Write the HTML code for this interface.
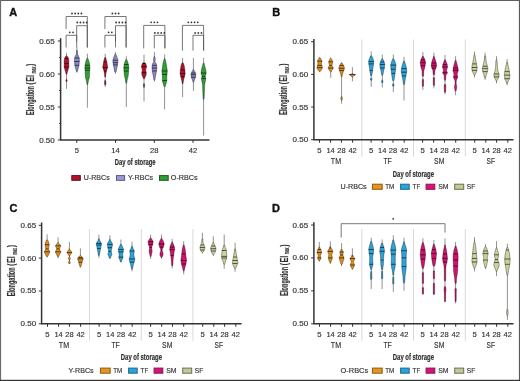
<!DOCTYPE html><html><head><meta charset="utf-8"><style>html,body{margin:0;padding:0;background:#fff;width:520px;height:381px;overflow:hidden}</style></head><body><svg width="520" height="381" viewBox="0 0 520 381" style="display:block;will-change:transform">
<g font-family='"Liberation Sans", sans-serif'>
<rect x="0" y="0" width="520" height="381" fill="#fff"/>
<text x="9.2" y="16.1" font-size="11" text-anchor="start" font-weight="bold" fill="#111" stroke="#111" stroke-width="0.35">A</text>
<text x="272.2" y="16.2" font-size="11" text-anchor="start" font-weight="bold" fill="#111" stroke="#111" stroke-width="0.35">B</text>
<text x="9.4" y="211.6" font-size="11" text-anchor="start" font-weight="bold" fill="#111" stroke="#111" stroke-width="0.35">C</text>
<text x="272" y="211.6" font-size="11" text-anchor="start" font-weight="bold" fill="#111" stroke="#111" stroke-width="0.35">D</text>
<line x1="60.6" y1="38.2" x2="60.6" y2="140.0" stroke="#333" stroke-width="1.5"/>
<line x1="57.800000000000004" y1="41.00" x2="60.6" y2="41.00" stroke="#333" stroke-width="1"/>
<text x="54.8" y="43.50" font-size="7.8" text-anchor="end" font-weight="normal" fill="#333" stroke="#333" stroke-width="0.15" textLength="15.6" lengthAdjust="spacingAndGlyphs" >0.65</text>
<line x1="57.800000000000004" y1="74.00" x2="60.6" y2="74.00" stroke="#333" stroke-width="1"/>
<text x="54.8" y="76.50" font-size="7.8" text-anchor="end" font-weight="normal" fill="#333" stroke="#333" stroke-width="0.15" textLength="15.6" lengthAdjust="spacingAndGlyphs" >0.60</text>
<line x1="57.800000000000004" y1="107.00" x2="60.6" y2="107.00" stroke="#333" stroke-width="1"/>
<text x="54.8" y="109.50" font-size="7.8" text-anchor="end" font-weight="normal" fill="#333" stroke="#333" stroke-width="0.15" textLength="15.6" lengthAdjust="spacingAndGlyphs" >0.55</text>
<line x1="57.800000000000004" y1="140.00" x2="60.6" y2="140.00" stroke="#333" stroke-width="1"/>
<text x="54.8" y="142.50" font-size="7.8" text-anchor="end" font-weight="normal" fill="#333" stroke="#333" stroke-width="0.15" textLength="15.6" lengthAdjust="spacingAndGlyphs" >0.50</text>
<line x1="59.0" y1="57.50" x2="60.6" y2="57.50" stroke="#333" stroke-width="0.9"/>
<line x1="59.0" y1="90.50" x2="60.6" y2="90.50" stroke="#333" stroke-width="0.9"/>
<line x1="59.0" y1="123.50" x2="60.6" y2="123.50" stroke="#333" stroke-width="0.9"/>
<line x1="60" y1="140" x2="209.5" y2="140" stroke="#333" stroke-width="1.5"/>
<line x1="76.8" y1="140" x2="76.8" y2="142.9" stroke="#333" stroke-width="1"/>
<text x="76.8" y="152.6" font-size="7.6" text-anchor="middle" font-weight="normal" fill="#333" stroke="#333" stroke-width="0.15" >5</text>
<line x1="115.5" y1="140" x2="115.5" y2="142.9" stroke="#333" stroke-width="1"/>
<text x="115.5" y="152.6" font-size="7.6" text-anchor="middle" font-weight="normal" fill="#333" stroke="#333" stroke-width="0.15" >14</text>
<line x1="154.3" y1="140" x2="154.3" y2="142.9" stroke="#333" stroke-width="1"/>
<text x="154.3" y="152.6" font-size="7.6" text-anchor="middle" font-weight="normal" fill="#333" stroke="#333" stroke-width="0.15" >28</text>
<line x1="193.0" y1="140" x2="193.0" y2="142.9" stroke="#333" stroke-width="1"/>
<text x="193.0" y="152.6" font-size="7.6" text-anchor="middle" font-weight="normal" fill="#333" stroke="#333" stroke-width="0.15" >42</text>
<g transform="translate(34.2,114.9) rotate(-90)" fill="#333" stroke="#333" stroke-width="0.15" font-weight="bold"><text x="0" y="0" font-size="10" textLength="28.8" lengthAdjust="spacingAndGlyphs">Elongation</text><text x="30.5" y="0" font-size="10" textLength="2.2" lengthAdjust="spacingAndGlyphs">(</text><text x="33.1" y="0" font-size="10" textLength="6.8" lengthAdjust="spacingAndGlyphs">EI</text><text x="41.4" y="1.3" font-size="6.5" textLength="6.8" lengthAdjust="spacingAndGlyphs">max</text><text x="49.0" y="0" font-size="10" textLength="2.2" lengthAdjust="spacingAndGlyphs">)</text></g>
<text x="135.2" y="165.2" font-size="8.3" text-anchor="middle" font-weight="bold" fill="#333" stroke="#333" stroke-width="0.2" textLength="40.7" lengthAdjust="spacingAndGlyphs" >Day of storage</text>
<rect x="71.80" y="175.60" width="8.50" height="4.70" fill="#b3112e" stroke="#6a0a1a" stroke-width="1"/>
<text x="83.8" y="180.4" font-size="7" text-anchor="start" font-weight="normal" fill="#333" stroke="#333" stroke-width="0.15" textLength="25.9" lengthAdjust="spacingAndGlyphs" >U-RBCs</text>
<rect x="116.50" y="175.60" width="8.10" height="4.70" fill="#9c9ad2" stroke="#55558a" stroke-width="1"/>
<text x="128" y="180.4" font-size="7" text-anchor="start" font-weight="normal" fill="#333" stroke="#333" stroke-width="0.15" textLength="25.1" lengthAdjust="spacingAndGlyphs" >Y-RBCs</text>
<rect x="159.50" y="175.60" width="8.70" height="4.70" fill="#2f9e33" stroke="#1a5a1a" stroke-width="1"/>
<text x="170.8" y="180.4" font-size="7" text-anchor="start" font-weight="normal" fill="#333" stroke="#333" stroke-width="0.15" textLength="26.9" lengthAdjust="spacingAndGlyphs" >O-RBCs</text>
<polyline points="66.10000000000001,29.0 66.10000000000001,16.5 87.3,16.5 87.3,47.5" fill="none" stroke="#555" stroke-width="0.8"/>
<circle cx="72.00" cy="13.5" r="0.9" fill="#333"/>
<circle cx="75.13" cy="13.5" r="0.9" fill="#333"/>
<circle cx="78.27" cy="13.5" r="0.9" fill="#333"/>
<circle cx="81.40" cy="13.5" r="0.9" fill="#333"/>
<polyline points="76.7,41.5 76.7,25.7 87.3,25.7 87.3,47.5" fill="none" stroke="#555" stroke-width="0.8"/>
<circle cx="77.30" cy="22.5" r="0.9" fill="#333"/>
<circle cx="80.43" cy="22.5" r="0.9" fill="#333"/>
<circle cx="83.57" cy="22.5" r="0.9" fill="#333"/>
<circle cx="86.70" cy="22.5" r="0.9" fill="#333"/>
<polyline points="66.10000000000001,47.5 66.10000000000001,35.3 76.7,35.3 76.7,47.5" fill="none" stroke="#555" stroke-width="0.8"/>
<circle cx="69.80" cy="32.3" r="0.9" fill="#333"/>
<circle cx="73.00" cy="32.3" r="0.9" fill="#333"/>
<polyline points="104.9,29.0 104.9,16.5 126.1,16.5 126.1,47.5" fill="none" stroke="#555" stroke-width="0.8"/>
<circle cx="112.35" cy="13.5" r="0.9" fill="#333"/>
<circle cx="115.50" cy="13.5" r="0.9" fill="#333"/>
<circle cx="118.65" cy="13.5" r="0.9" fill="#333"/>
<polyline points="115.5,41.5 115.5,25.7 126.1,25.7 126.1,47.5" fill="none" stroke="#555" stroke-width="0.8"/>
<circle cx="116.10" cy="22.5" r="0.9" fill="#333"/>
<circle cx="119.23" cy="22.5" r="0.9" fill="#333"/>
<circle cx="122.37" cy="22.5" r="0.9" fill="#333"/>
<circle cx="125.50" cy="22.5" r="0.9" fill="#333"/>
<polyline points="104.9,47.5 104.9,35.3 115.5,35.3 115.5,47.5" fill="none" stroke="#555" stroke-width="0.8"/>
<circle cx="108.60" cy="32.3" r="0.9" fill="#333"/>
<circle cx="111.80" cy="32.3" r="0.9" fill="#333"/>
<polyline points="143.70000000000002,48.4 143.70000000000002,25.4 164.9,25.4 164.9,48.4" fill="none" stroke="#555" stroke-width="0.8"/>
<circle cx="151.15" cy="22.3" r="0.9" fill="#333"/>
<circle cx="154.30" cy="22.3" r="0.9" fill="#333"/>
<circle cx="157.45" cy="22.3" r="0.9" fill="#333"/>
<polyline points="154.3,48.4 154.3,35.3 164.9,35.3 164.9,48.4" fill="none" stroke="#555" stroke-width="0.8"/>
<circle cx="154.90" cy="32.9" r="0.9" fill="#333"/>
<circle cx="158.03" cy="32.9" r="0.9" fill="#333"/>
<circle cx="161.17" cy="32.9" r="0.9" fill="#333"/>
<circle cx="164.30" cy="32.9" r="0.9" fill="#333"/>
<polyline points="182.4,50.6 182.4,25.4 203.6,25.4 203.6,50.6" fill="none" stroke="#555" stroke-width="0.8"/>
<circle cx="188.30" cy="22.3" r="0.9" fill="#333"/>
<circle cx="191.43" cy="22.3" r="0.9" fill="#333"/>
<circle cx="194.57" cy="22.3" r="0.9" fill="#333"/>
<circle cx="197.70" cy="22.3" r="0.9" fill="#333"/>
<polyline points="193.0,50.6 193.0,35.3 203.6,35.3 203.6,50.6" fill="none" stroke="#555" stroke-width="0.8"/>
<circle cx="195.15" cy="32.9" r="0.9" fill="#333"/>
<circle cx="198.30" cy="32.9" r="0.9" fill="#333"/>
<circle cx="201.45" cy="32.9" r="0.9" fill="#333"/>
<line x1="361.8" y1="39.4" x2="361.8" y2="156.7" stroke="#d0d0d0" stroke-width="0.8"/>
<line x1="413.5" y1="39.4" x2="413.5" y2="156.7" stroke="#d0d0d0" stroke-width="0.8"/>
<line x1="465.3" y1="39.4" x2="465.3" y2="156.7" stroke="#d0d0d0" stroke-width="0.8"/>
<line x1="313.9" y1="38.900000000000006" x2="313.9" y2="139.7" stroke="#333" stroke-width="1.5"/>
<line x1="311.09999999999997" y1="41.70" x2="313.9" y2="41.70" stroke="#333" stroke-width="1"/>
<text x="308.1" y="44.20" font-size="7.8" text-anchor="end" font-weight="normal" fill="#333" stroke="#333" stroke-width="0.15" textLength="15.6" lengthAdjust="spacingAndGlyphs" >0.65</text>
<line x1="311.09999999999997" y1="74.37" x2="313.9" y2="74.37" stroke="#333" stroke-width="1"/>
<text x="308.1" y="76.87" font-size="7.8" text-anchor="end" font-weight="normal" fill="#333" stroke="#333" stroke-width="0.15" textLength="15.6" lengthAdjust="spacingAndGlyphs" >0.60</text>
<line x1="311.09999999999997" y1="107.03" x2="313.9" y2="107.03" stroke="#333" stroke-width="1"/>
<text x="308.1" y="109.53" font-size="7.8" text-anchor="end" font-weight="normal" fill="#333" stroke="#333" stroke-width="0.15" textLength="15.6" lengthAdjust="spacingAndGlyphs" >0.55</text>
<line x1="311.09999999999997" y1="139.70" x2="313.9" y2="139.70" stroke="#333" stroke-width="1"/>
<text x="308.1" y="142.20" font-size="7.8" text-anchor="end" font-weight="normal" fill="#333" stroke="#333" stroke-width="0.15" textLength="15.6" lengthAdjust="spacingAndGlyphs" >0.50</text>
<line x1="313.29999999999995" y1="139.7" x2="513.6" y2="139.7" stroke="#333" stroke-width="1.5"/>
<line x1="319.50" y1="139.7" x2="319.50" y2="142.7" stroke="#333" stroke-width="1"/>
<text x="319.50" y="152.9" font-size="7.8" text-anchor="middle" font-weight="normal" fill="#333" stroke="#333" stroke-width="0.15" textLength="4.3" lengthAdjust="spacingAndGlyphs" >5</text>
<line x1="330.60" y1="139.7" x2="330.60" y2="142.7" stroke="#333" stroke-width="1"/>
<text x="330.60" y="152.9" font-size="7.8" text-anchor="middle" font-weight="normal" fill="#333" stroke="#333" stroke-width="0.15" textLength="8.4" lengthAdjust="spacingAndGlyphs" >14</text>
<line x1="341.40" y1="139.7" x2="341.40" y2="142.7" stroke="#333" stroke-width="1"/>
<text x="341.40" y="152.9" font-size="7.8" text-anchor="middle" font-weight="normal" fill="#333" stroke="#333" stroke-width="0.15" textLength="8.4" lengthAdjust="spacingAndGlyphs" >28</text>
<line x1="352.60" y1="139.7" x2="352.60" y2="142.7" stroke="#333" stroke-width="1"/>
<text x="352.60" y="152.9" font-size="7.8" text-anchor="middle" font-weight="normal" fill="#333" stroke="#333" stroke-width="0.15" textLength="8.4" lengthAdjust="spacingAndGlyphs" >42</text>
<text x="336.00" y="164.2" font-size="8.2" text-anchor="middle" font-weight="normal" fill="#333" stroke="#333" stroke-width="0.15" textLength="10.3" lengthAdjust="spacingAndGlyphs" >TM</text>
<line x1="371.10" y1="139.7" x2="371.10" y2="142.7" stroke="#333" stroke-width="1"/>
<text x="371.10" y="152.9" font-size="7.8" text-anchor="middle" font-weight="normal" fill="#333" stroke="#333" stroke-width="0.15" textLength="4.3" lengthAdjust="spacingAndGlyphs" >5</text>
<line x1="382.20" y1="139.7" x2="382.20" y2="142.7" stroke="#333" stroke-width="1"/>
<text x="382.20" y="152.9" font-size="7.8" text-anchor="middle" font-weight="normal" fill="#333" stroke="#333" stroke-width="0.15" textLength="8.4" lengthAdjust="spacingAndGlyphs" >14</text>
<line x1="393.00" y1="139.7" x2="393.00" y2="142.7" stroke="#333" stroke-width="1"/>
<text x="393.00" y="152.9" font-size="7.8" text-anchor="middle" font-weight="normal" fill="#333" stroke="#333" stroke-width="0.15" textLength="8.4" lengthAdjust="spacingAndGlyphs" >28</text>
<line x1="404.20" y1="139.7" x2="404.20" y2="142.7" stroke="#333" stroke-width="1"/>
<text x="404.20" y="152.9" font-size="7.8" text-anchor="middle" font-weight="normal" fill="#333" stroke="#333" stroke-width="0.15" textLength="8.4" lengthAdjust="spacingAndGlyphs" >42</text>
<text x="387.60" y="164.2" font-size="8.2" text-anchor="middle" font-weight="normal" fill="#333" stroke="#333" stroke-width="0.15" textLength="8.4" lengthAdjust="spacingAndGlyphs" >TF</text>
<line x1="422.60" y1="139.7" x2="422.60" y2="142.7" stroke="#333" stroke-width="1"/>
<text x="422.60" y="152.9" font-size="7.8" text-anchor="middle" font-weight="normal" fill="#333" stroke="#333" stroke-width="0.15" textLength="4.3" lengthAdjust="spacingAndGlyphs" >5</text>
<line x1="433.70" y1="139.7" x2="433.70" y2="142.7" stroke="#333" stroke-width="1"/>
<text x="433.70" y="152.9" font-size="7.8" text-anchor="middle" font-weight="normal" fill="#333" stroke="#333" stroke-width="0.15" textLength="8.4" lengthAdjust="spacingAndGlyphs" >14</text>
<line x1="444.50" y1="139.7" x2="444.50" y2="142.7" stroke="#333" stroke-width="1"/>
<text x="444.50" y="152.9" font-size="7.8" text-anchor="middle" font-weight="normal" fill="#333" stroke="#333" stroke-width="0.15" textLength="8.4" lengthAdjust="spacingAndGlyphs" >28</text>
<line x1="455.70" y1="139.7" x2="455.70" y2="142.7" stroke="#333" stroke-width="1"/>
<text x="455.70" y="152.9" font-size="7.8" text-anchor="middle" font-weight="normal" fill="#333" stroke="#333" stroke-width="0.15" textLength="8.4" lengthAdjust="spacingAndGlyphs" >42</text>
<text x="439.20" y="164.2" font-size="8.2" text-anchor="middle" font-weight="normal" fill="#333" stroke="#333" stroke-width="0.15" textLength="10.3" lengthAdjust="spacingAndGlyphs" >SM</text>
<line x1="474.70" y1="139.7" x2="474.70" y2="142.7" stroke="#333" stroke-width="1"/>
<text x="474.70" y="152.9" font-size="7.8" text-anchor="middle" font-weight="normal" fill="#333" stroke="#333" stroke-width="0.15" textLength="4.3" lengthAdjust="spacingAndGlyphs" >5</text>
<line x1="485.80" y1="139.7" x2="485.80" y2="142.7" stroke="#333" stroke-width="1"/>
<text x="485.80" y="152.9" font-size="7.8" text-anchor="middle" font-weight="normal" fill="#333" stroke="#333" stroke-width="0.15" textLength="8.4" lengthAdjust="spacingAndGlyphs" >14</text>
<line x1="496.60" y1="139.7" x2="496.60" y2="142.7" stroke="#333" stroke-width="1"/>
<text x="496.60" y="152.9" font-size="7.8" text-anchor="middle" font-weight="normal" fill="#333" stroke="#333" stroke-width="0.15" textLength="8.4" lengthAdjust="spacingAndGlyphs" >28</text>
<line x1="507.80" y1="139.7" x2="507.80" y2="142.7" stroke="#333" stroke-width="1"/>
<text x="507.80" y="152.9" font-size="7.8" text-anchor="middle" font-weight="normal" fill="#333" stroke="#333" stroke-width="0.15" textLength="8.4" lengthAdjust="spacingAndGlyphs" >42</text>
<text x="490.70" y="164.2" font-size="8.2" text-anchor="middle" font-weight="normal" fill="#333" stroke="#333" stroke-width="0.15" textLength="8.4" lengthAdjust="spacingAndGlyphs" >SF</text>
<g transform="translate(287.4,114.8) rotate(-90)" fill="#333" stroke="#333" stroke-width="0.15" font-weight="bold"><text x="0" y="0" font-size="10" textLength="28.8" lengthAdjust="spacingAndGlyphs">Elongation</text><text x="30.5" y="0" font-size="10" textLength="2.2" lengthAdjust="spacingAndGlyphs">(</text><text x="33.1" y="0" font-size="10" textLength="6.8" lengthAdjust="spacingAndGlyphs">EI</text><text x="41.4" y="1.3" font-size="6.5" textLength="6.8" lengthAdjust="spacingAndGlyphs">max</text><text x="49.0" y="0" font-size="10" textLength="2.2" lengthAdjust="spacingAndGlyphs">)</text></g>
<text x="413.4" y="176.5" font-size="8.3" text-anchor="middle" font-weight="bold" fill="#333" stroke="#333" stroke-width="0.2" textLength="41.2" lengthAdjust="spacingAndGlyphs" >Day of storage</text>
<text x="340.5" y="188.8" font-size="7" text-anchor="start" font-weight="normal" fill="#333" stroke="#333" stroke-width="0.15" textLength="26.2" lengthAdjust="spacingAndGlyphs" >U-RBCs</text>
<rect x="372.40" y="184.20" width="9.80" height="5.10" fill="#e8951d" stroke="#8a5a10" stroke-width="1"/>
<text x="385.3" y="188.8" font-size="7" text-anchor="start" font-weight="normal" fill="#333" stroke="#333" stroke-width="0.15" textLength="9.0" lengthAdjust="spacingAndGlyphs" >TM</text>
<rect x="400.60" y="184.20" width="8.60" height="5.10" fill="#2ba4d8" stroke="#1a6a90" stroke-width="1"/>
<text x="412.6" y="188.8" font-size="7" text-anchor="start" font-weight="normal" fill="#333" stroke="#333" stroke-width="0.15" textLength="7.6" lengthAdjust="spacingAndGlyphs" >TF</text>
<rect x="426.10" y="184.20" width="8.70" height="5.10" fill="#d8127a" stroke="#8a1050" stroke-width="1"/>
<text x="438.2" y="188.8" font-size="7" text-anchor="start" font-weight="normal" fill="#333" stroke="#333" stroke-width="0.15" textLength="10.3" lengthAdjust="spacingAndGlyphs" >SM</text>
<rect x="454.70" y="184.20" width="9.00" height="5.10" fill="#c2cb98" stroke="#6a7050" stroke-width="1"/>
<text x="466.8" y="188.8" font-size="7" text-anchor="start" font-weight="normal" fill="#333" stroke="#333" stroke-width="0.15" textLength="8.4" lengthAdjust="spacingAndGlyphs" >SF</text>
<line x1="89.5" y1="229" x2="89.5" y2="340.8" stroke="#d0d0d0" stroke-width="0.8"/>
<line x1="141.3" y1="229" x2="141.3" y2="340.8" stroke="#d0d0d0" stroke-width="0.8"/>
<line x1="192.9" y1="229" x2="192.9" y2="340.8" stroke="#d0d0d0" stroke-width="0.8"/>
<line x1="41.6" y1="222.5" x2="41.6" y2="323.8" stroke="#333" stroke-width="1.5"/>
<line x1="38.800000000000004" y1="225.30" x2="41.6" y2="225.30" stroke="#333" stroke-width="1"/>
<text x="36.1" y="227.80" font-size="7.8" text-anchor="end" font-weight="normal" fill="#333" stroke="#333" stroke-width="0.15" textLength="15.6" lengthAdjust="spacingAndGlyphs" >0.65</text>
<line x1="38.800000000000004" y1="258.13" x2="41.6" y2="258.13" stroke="#333" stroke-width="1"/>
<text x="36.1" y="260.63" font-size="7.8" text-anchor="end" font-weight="normal" fill="#333" stroke="#333" stroke-width="0.15" textLength="15.6" lengthAdjust="spacingAndGlyphs" >0.60</text>
<line x1="38.800000000000004" y1="290.97" x2="41.6" y2="290.97" stroke="#333" stroke-width="1"/>
<text x="36.1" y="293.47" font-size="7.8" text-anchor="end" font-weight="normal" fill="#333" stroke="#333" stroke-width="0.15" textLength="15.6" lengthAdjust="spacingAndGlyphs" >0.55</text>
<line x1="38.800000000000004" y1="323.80" x2="41.6" y2="323.80" stroke="#333" stroke-width="1"/>
<text x="36.1" y="326.30" font-size="7.8" text-anchor="end" font-weight="normal" fill="#333" stroke="#333" stroke-width="0.15" textLength="15.6" lengthAdjust="spacingAndGlyphs" >0.50</text>
<line x1="41.0" y1="323.8" x2="241.60000000000002" y2="323.8" stroke="#333" stroke-width="1.5"/>
<line x1="47.50" y1="323.8" x2="47.50" y2="326.8" stroke="#333" stroke-width="1"/>
<text x="47.50" y="336.6" font-size="7.8" text-anchor="middle" font-weight="normal" fill="#333" stroke="#333" stroke-width="0.15" textLength="4.3" lengthAdjust="spacingAndGlyphs" >5</text>
<line x1="58.60" y1="323.8" x2="58.60" y2="326.8" stroke="#333" stroke-width="1"/>
<text x="58.60" y="336.6" font-size="7.8" text-anchor="middle" font-weight="normal" fill="#333" stroke="#333" stroke-width="0.15" textLength="8.4" lengthAdjust="spacingAndGlyphs" >14</text>
<line x1="69.40" y1="323.8" x2="69.40" y2="326.8" stroke="#333" stroke-width="1"/>
<text x="69.40" y="336.6" font-size="7.8" text-anchor="middle" font-weight="normal" fill="#333" stroke="#333" stroke-width="0.15" textLength="8.4" lengthAdjust="spacingAndGlyphs" >28</text>
<line x1="80.60" y1="323.8" x2="80.60" y2="326.8" stroke="#333" stroke-width="1"/>
<text x="80.60" y="336.6" font-size="7.8" text-anchor="middle" font-weight="normal" fill="#333" stroke="#333" stroke-width="0.15" textLength="8.4" lengthAdjust="spacingAndGlyphs" >42</text>
<text x="64.00" y="347.9" font-size="8.2" text-anchor="middle" font-weight="normal" fill="#333" stroke="#333" stroke-width="0.15" textLength="10.3" lengthAdjust="spacingAndGlyphs" >TM</text>
<line x1="99.10" y1="323.8" x2="99.10" y2="326.8" stroke="#333" stroke-width="1"/>
<text x="99.10" y="336.6" font-size="7.8" text-anchor="middle" font-weight="normal" fill="#333" stroke="#333" stroke-width="0.15" textLength="4.3" lengthAdjust="spacingAndGlyphs" >5</text>
<line x1="110.20" y1="323.8" x2="110.20" y2="326.8" stroke="#333" stroke-width="1"/>
<text x="110.20" y="336.6" font-size="7.8" text-anchor="middle" font-weight="normal" fill="#333" stroke="#333" stroke-width="0.15" textLength="8.4" lengthAdjust="spacingAndGlyphs" >14</text>
<line x1="121.00" y1="323.8" x2="121.00" y2="326.8" stroke="#333" stroke-width="1"/>
<text x="121.00" y="336.6" font-size="7.8" text-anchor="middle" font-weight="normal" fill="#333" stroke="#333" stroke-width="0.15" textLength="8.4" lengthAdjust="spacingAndGlyphs" >28</text>
<line x1="132.20" y1="323.8" x2="132.20" y2="326.8" stroke="#333" stroke-width="1"/>
<text x="132.20" y="336.6" font-size="7.8" text-anchor="middle" font-weight="normal" fill="#333" stroke="#333" stroke-width="0.15" textLength="8.4" lengthAdjust="spacingAndGlyphs" >42</text>
<text x="115.60" y="347.9" font-size="8.2" text-anchor="middle" font-weight="normal" fill="#333" stroke="#333" stroke-width="0.15" textLength="8.4" lengthAdjust="spacingAndGlyphs" >TF</text>
<line x1="150.60" y1="323.8" x2="150.60" y2="326.8" stroke="#333" stroke-width="1"/>
<text x="150.60" y="336.6" font-size="7.8" text-anchor="middle" font-weight="normal" fill="#333" stroke="#333" stroke-width="0.15" textLength="4.3" lengthAdjust="spacingAndGlyphs" >5</text>
<line x1="161.70" y1="323.8" x2="161.70" y2="326.8" stroke="#333" stroke-width="1"/>
<text x="161.70" y="336.6" font-size="7.8" text-anchor="middle" font-weight="normal" fill="#333" stroke="#333" stroke-width="0.15" textLength="8.4" lengthAdjust="spacingAndGlyphs" >14</text>
<line x1="172.50" y1="323.8" x2="172.50" y2="326.8" stroke="#333" stroke-width="1"/>
<text x="172.50" y="336.6" font-size="7.8" text-anchor="middle" font-weight="normal" fill="#333" stroke="#333" stroke-width="0.15" textLength="8.4" lengthAdjust="spacingAndGlyphs" >28</text>
<line x1="183.70" y1="323.8" x2="183.70" y2="326.8" stroke="#333" stroke-width="1"/>
<text x="183.70" y="336.6" font-size="7.8" text-anchor="middle" font-weight="normal" fill="#333" stroke="#333" stroke-width="0.15" textLength="8.4" lengthAdjust="spacingAndGlyphs" >42</text>
<text x="167.20" y="347.9" font-size="8.2" text-anchor="middle" font-weight="normal" fill="#333" stroke="#333" stroke-width="0.15" textLength="10.3" lengthAdjust="spacingAndGlyphs" >SM</text>
<line x1="202.70" y1="323.8" x2="202.70" y2="326.8" stroke="#333" stroke-width="1"/>
<text x="202.70" y="336.6" font-size="7.8" text-anchor="middle" font-weight="normal" fill="#333" stroke="#333" stroke-width="0.15" textLength="4.3" lengthAdjust="spacingAndGlyphs" >5</text>
<line x1="213.80" y1="323.8" x2="213.80" y2="326.8" stroke="#333" stroke-width="1"/>
<text x="213.80" y="336.6" font-size="7.8" text-anchor="middle" font-weight="normal" fill="#333" stroke="#333" stroke-width="0.15" textLength="8.4" lengthAdjust="spacingAndGlyphs" >14</text>
<line x1="224.60" y1="323.8" x2="224.60" y2="326.8" stroke="#333" stroke-width="1"/>
<text x="224.60" y="336.6" font-size="7.8" text-anchor="middle" font-weight="normal" fill="#333" stroke="#333" stroke-width="0.15" textLength="8.4" lengthAdjust="spacingAndGlyphs" >28</text>
<line x1="235.80" y1="323.8" x2="235.80" y2="326.8" stroke="#333" stroke-width="1"/>
<text x="235.80" y="336.6" font-size="7.8" text-anchor="middle" font-weight="normal" fill="#333" stroke="#333" stroke-width="0.15" textLength="8.4" lengthAdjust="spacingAndGlyphs" >42</text>
<text x="218.70" y="347.9" font-size="8.2" text-anchor="middle" font-weight="normal" fill="#333" stroke="#333" stroke-width="0.15" textLength="8.4" lengthAdjust="spacingAndGlyphs" >SF</text>
<g transform="translate(15.2,296.2) rotate(-90)" fill="#333" stroke="#333" stroke-width="0.15" font-weight="bold"><text x="0" y="0" font-size="10" textLength="28.8" lengthAdjust="spacingAndGlyphs">Elongation</text><text x="30.5" y="0" font-size="10" textLength="2.2" lengthAdjust="spacingAndGlyphs">(</text><text x="33.1" y="0" font-size="10" textLength="6.8" lengthAdjust="spacingAndGlyphs">EI</text><text x="41.4" y="1.3" font-size="6.5" textLength="6.8" lengthAdjust="spacingAndGlyphs">max</text><text x="49.0" y="0" font-size="10" textLength="2.2" lengthAdjust="spacingAndGlyphs">)</text></g>
<text x="141.39999999999998" y="360.2" font-size="8.3" text-anchor="middle" font-weight="bold" fill="#333" stroke="#333" stroke-width="0.2" textLength="41.2" lengthAdjust="spacingAndGlyphs" >Day of storage</text>
<text x="68.5" y="372.7" font-size="7" text-anchor="start" font-weight="normal" fill="#333" stroke="#333" stroke-width="0.15" textLength="25.1" lengthAdjust="spacingAndGlyphs" >Y-RBCs</text>
<rect x="100.40" y="368.10" width="9.80" height="5.10" fill="#e8951d" stroke="#8a5a10" stroke-width="1"/>
<text x="113.30000000000001" y="372.7" font-size="7" text-anchor="start" font-weight="normal" fill="#333" stroke="#333" stroke-width="0.15" textLength="9.0" lengthAdjust="spacingAndGlyphs" >TM</text>
<rect x="128.60" y="368.10" width="8.60" height="5.10" fill="#2ba4d8" stroke="#1a6a90" stroke-width="1"/>
<text x="140.60000000000002" y="372.7" font-size="7" text-anchor="start" font-weight="normal" fill="#333" stroke="#333" stroke-width="0.15" textLength="7.6" lengthAdjust="spacingAndGlyphs" >TF</text>
<rect x="154.10" y="368.10" width="8.70" height="5.10" fill="#d8127a" stroke="#8a1050" stroke-width="1"/>
<text x="166.2" y="372.7" font-size="7" text-anchor="start" font-weight="normal" fill="#333" stroke="#333" stroke-width="0.15" textLength="10.3" lengthAdjust="spacingAndGlyphs" >SM</text>
<rect x="182.70" y="368.10" width="9.00" height="5.10" fill="#c2cb98" stroke="#6a7050" stroke-width="1"/>
<text x="194.8" y="372.7" font-size="7" text-anchor="start" font-weight="normal" fill="#333" stroke="#333" stroke-width="0.15" textLength="8.4" lengthAdjust="spacingAndGlyphs" >SF</text>
<line x1="361.8" y1="229" x2="361.8" y2="340.8" stroke="#d0d0d0" stroke-width="0.8"/>
<line x1="413.5" y1="229" x2="413.5" y2="340.8" stroke="#d0d0d0" stroke-width="0.8"/>
<line x1="465.3" y1="229" x2="465.3" y2="340.8" stroke="#d0d0d0" stroke-width="0.8"/>
<line x1="313.9" y1="222.2" x2="313.9" y2="323.8" stroke="#333" stroke-width="1.5"/>
<line x1="311.09999999999997" y1="225.00" x2="313.9" y2="225.00" stroke="#333" stroke-width="1"/>
<text x="308.1" y="227.50" font-size="7.8" text-anchor="end" font-weight="normal" fill="#333" stroke="#333" stroke-width="0.15" textLength="15.6" lengthAdjust="spacingAndGlyphs" >0.65</text>
<line x1="311.09999999999997" y1="257.93" x2="313.9" y2="257.93" stroke="#333" stroke-width="1"/>
<text x="308.1" y="260.43" font-size="7.8" text-anchor="end" font-weight="normal" fill="#333" stroke="#333" stroke-width="0.15" textLength="15.6" lengthAdjust="spacingAndGlyphs" >0.60</text>
<line x1="311.09999999999997" y1="290.87" x2="313.9" y2="290.87" stroke="#333" stroke-width="1"/>
<text x="308.1" y="293.37" font-size="7.8" text-anchor="end" font-weight="normal" fill="#333" stroke="#333" stroke-width="0.15" textLength="15.6" lengthAdjust="spacingAndGlyphs" >0.55</text>
<line x1="311.09999999999997" y1="323.80" x2="313.9" y2="323.80" stroke="#333" stroke-width="1"/>
<text x="308.1" y="326.30" font-size="7.8" text-anchor="end" font-weight="normal" fill="#333" stroke="#333" stroke-width="0.15" textLength="15.6" lengthAdjust="spacingAndGlyphs" >0.50</text>
<line x1="313.29999999999995" y1="323.8" x2="513.6" y2="323.8" stroke="#333" stroke-width="1.5"/>
<line x1="319.50" y1="323.8" x2="319.50" y2="326.8" stroke="#333" stroke-width="1"/>
<text x="319.50" y="336.6" font-size="7.8" text-anchor="middle" font-weight="normal" fill="#333" stroke="#333" stroke-width="0.15" textLength="4.3" lengthAdjust="spacingAndGlyphs" >5</text>
<line x1="330.60" y1="323.8" x2="330.60" y2="326.8" stroke="#333" stroke-width="1"/>
<text x="330.60" y="336.6" font-size="7.8" text-anchor="middle" font-weight="normal" fill="#333" stroke="#333" stroke-width="0.15" textLength="8.4" lengthAdjust="spacingAndGlyphs" >14</text>
<line x1="341.40" y1="323.8" x2="341.40" y2="326.8" stroke="#333" stroke-width="1"/>
<text x="341.40" y="336.6" font-size="7.8" text-anchor="middle" font-weight="normal" fill="#333" stroke="#333" stroke-width="0.15" textLength="8.4" lengthAdjust="spacingAndGlyphs" >28</text>
<line x1="352.60" y1="323.8" x2="352.60" y2="326.8" stroke="#333" stroke-width="1"/>
<text x="352.60" y="336.6" font-size="7.8" text-anchor="middle" font-weight="normal" fill="#333" stroke="#333" stroke-width="0.15" textLength="8.4" lengthAdjust="spacingAndGlyphs" >42</text>
<text x="336.00" y="347.9" font-size="8.2" text-anchor="middle" font-weight="normal" fill="#333" stroke="#333" stroke-width="0.15" textLength="10.3" lengthAdjust="spacingAndGlyphs" >TM</text>
<line x1="371.10" y1="323.8" x2="371.10" y2="326.8" stroke="#333" stroke-width="1"/>
<text x="371.10" y="336.6" font-size="7.8" text-anchor="middle" font-weight="normal" fill="#333" stroke="#333" stroke-width="0.15" textLength="4.3" lengthAdjust="spacingAndGlyphs" >5</text>
<line x1="382.20" y1="323.8" x2="382.20" y2="326.8" stroke="#333" stroke-width="1"/>
<text x="382.20" y="336.6" font-size="7.8" text-anchor="middle" font-weight="normal" fill="#333" stroke="#333" stroke-width="0.15" textLength="8.4" lengthAdjust="spacingAndGlyphs" >14</text>
<line x1="393.00" y1="323.8" x2="393.00" y2="326.8" stroke="#333" stroke-width="1"/>
<text x="393.00" y="336.6" font-size="7.8" text-anchor="middle" font-weight="normal" fill="#333" stroke="#333" stroke-width="0.15" textLength="8.4" lengthAdjust="spacingAndGlyphs" >28</text>
<line x1="404.20" y1="323.8" x2="404.20" y2="326.8" stroke="#333" stroke-width="1"/>
<text x="404.20" y="336.6" font-size="7.8" text-anchor="middle" font-weight="normal" fill="#333" stroke="#333" stroke-width="0.15" textLength="8.4" lengthAdjust="spacingAndGlyphs" >42</text>
<text x="387.60" y="347.9" font-size="8.2" text-anchor="middle" font-weight="normal" fill="#333" stroke="#333" stroke-width="0.15" textLength="8.4" lengthAdjust="spacingAndGlyphs" >TF</text>
<line x1="422.60" y1="323.8" x2="422.60" y2="326.8" stroke="#333" stroke-width="1"/>
<text x="422.60" y="336.6" font-size="7.8" text-anchor="middle" font-weight="normal" fill="#333" stroke="#333" stroke-width="0.15" textLength="4.3" lengthAdjust="spacingAndGlyphs" >5</text>
<line x1="433.70" y1="323.8" x2="433.70" y2="326.8" stroke="#333" stroke-width="1"/>
<text x="433.70" y="336.6" font-size="7.8" text-anchor="middle" font-weight="normal" fill="#333" stroke="#333" stroke-width="0.15" textLength="8.4" lengthAdjust="spacingAndGlyphs" >14</text>
<line x1="444.50" y1="323.8" x2="444.50" y2="326.8" stroke="#333" stroke-width="1"/>
<text x="444.50" y="336.6" font-size="7.8" text-anchor="middle" font-weight="normal" fill="#333" stroke="#333" stroke-width="0.15" textLength="8.4" lengthAdjust="spacingAndGlyphs" >28</text>
<line x1="455.70" y1="323.8" x2="455.70" y2="326.8" stroke="#333" stroke-width="1"/>
<text x="455.70" y="336.6" font-size="7.8" text-anchor="middle" font-weight="normal" fill="#333" stroke="#333" stroke-width="0.15" textLength="8.4" lengthAdjust="spacingAndGlyphs" >42</text>
<text x="439.20" y="347.9" font-size="8.2" text-anchor="middle" font-weight="normal" fill="#333" stroke="#333" stroke-width="0.15" textLength="10.3" lengthAdjust="spacingAndGlyphs" >SM</text>
<line x1="474.70" y1="323.8" x2="474.70" y2="326.8" stroke="#333" stroke-width="1"/>
<text x="474.70" y="336.6" font-size="7.8" text-anchor="middle" font-weight="normal" fill="#333" stroke="#333" stroke-width="0.15" textLength="4.3" lengthAdjust="spacingAndGlyphs" >5</text>
<line x1="485.80" y1="323.8" x2="485.80" y2="326.8" stroke="#333" stroke-width="1"/>
<text x="485.80" y="336.6" font-size="7.8" text-anchor="middle" font-weight="normal" fill="#333" stroke="#333" stroke-width="0.15" textLength="8.4" lengthAdjust="spacingAndGlyphs" >14</text>
<line x1="496.60" y1="323.8" x2="496.60" y2="326.8" stroke="#333" stroke-width="1"/>
<text x="496.60" y="336.6" font-size="7.8" text-anchor="middle" font-weight="normal" fill="#333" stroke="#333" stroke-width="0.15" textLength="8.4" lengthAdjust="spacingAndGlyphs" >28</text>
<line x1="507.80" y1="323.8" x2="507.80" y2="326.8" stroke="#333" stroke-width="1"/>
<text x="507.80" y="336.6" font-size="7.8" text-anchor="middle" font-weight="normal" fill="#333" stroke="#333" stroke-width="0.15" textLength="8.4" lengthAdjust="spacingAndGlyphs" >42</text>
<text x="490.70" y="347.9" font-size="8.2" text-anchor="middle" font-weight="normal" fill="#333" stroke="#333" stroke-width="0.15" textLength="8.4" lengthAdjust="spacingAndGlyphs" >SF</text>
<g transform="translate(287.6,295.7) rotate(-90)" fill="#333" stroke="#333" stroke-width="0.15" font-weight="bold"><text x="0" y="0" font-size="10" textLength="28.8" lengthAdjust="spacingAndGlyphs">Elongation</text><text x="30.5" y="0" font-size="10" textLength="2.2" lengthAdjust="spacingAndGlyphs">(</text><text x="33.1" y="0" font-size="10" textLength="6.8" lengthAdjust="spacingAndGlyphs">EI</text><text x="41.4" y="1.3" font-size="6.5" textLength="6.8" lengthAdjust="spacingAndGlyphs">max</text><text x="49.0" y="0" font-size="10" textLength="2.2" lengthAdjust="spacingAndGlyphs">)</text></g>
<text x="413.4" y="360.2" font-size="8.3" text-anchor="middle" font-weight="bold" fill="#333" stroke="#333" stroke-width="0.2" textLength="41.2" lengthAdjust="spacingAndGlyphs" >Day of storage</text>
<text x="340.5" y="372.7" font-size="7" text-anchor="start" font-weight="normal" fill="#333" stroke="#333" stroke-width="0.15" textLength="27.7" lengthAdjust="spacingAndGlyphs" >O-RBCs</text>
<rect x="372.40" y="368.10" width="9.80" height="5.10" fill="#e8951d" stroke="#8a5a10" stroke-width="1"/>
<text x="385.3" y="372.7" font-size="7" text-anchor="start" font-weight="normal" fill="#333" stroke="#333" stroke-width="0.15" textLength="9.0" lengthAdjust="spacingAndGlyphs" >TM</text>
<rect x="400.60" y="368.10" width="8.60" height="5.10" fill="#2ba4d8" stroke="#1a6a90" stroke-width="1"/>
<text x="412.6" y="372.7" font-size="7" text-anchor="start" font-weight="normal" fill="#333" stroke="#333" stroke-width="0.15" textLength="7.6" lengthAdjust="spacingAndGlyphs" >TF</text>
<rect x="426.10" y="368.10" width="8.70" height="5.10" fill="#d8127a" stroke="#8a1050" stroke-width="1"/>
<text x="438.2" y="372.7" font-size="7" text-anchor="start" font-weight="normal" fill="#333" stroke="#333" stroke-width="0.15" textLength="10.3" lengthAdjust="spacingAndGlyphs" >SM</text>
<rect x="454.70" y="368.10" width="9.00" height="5.10" fill="#c2cb98" stroke="#6a7050" stroke-width="1"/>
<text x="466.8" y="372.7" font-size="7" text-anchor="start" font-weight="normal" fill="#333" stroke="#333" stroke-width="0.15" textLength="8.4" lengthAdjust="spacingAndGlyphs" >SF</text>
<line x1="66.5" y1="52.8" x2="66.5" y2="88.8" stroke="#6e6e6e" stroke-width="0.75"/>
<polygon points="66.55,55.8 67.27,56.3 67.61,56.8 67.94,57.3 68.19,57.8 68.34,58.3 68.48,58.8 68.61,59.3 68.72,59.8 68.82,60.3 68.88,60.8 68.92,61.3 68.92,61.8 68.89,62.3 68.86,62.8 68.83,63.3 68.81,63.8 68.81,64.3 68.83,64.8 68.86,65.3 68.90,65.8 68.92,66.3 68.91,66.8 68.85,67.3 68.72,67.8 68.58,68.3 68.43,68.8 68.29,69.3 68.13,69.8 67.96,70.3 67.79,70.8 67.63,71.3 67.49,71.8 67.36,72.3 67.24,72.8 67.13,73.3 67.03,73.8 66.55,74.3 66.45,74.3 65.97,73.8 65.87,73.3 65.76,72.8 65.64,72.3 65.51,71.8 65.37,71.3 65.21,70.8 65.04,70.3 64.87,69.8 64.71,69.3 64.57,68.8 64.42,68.3 64.28,67.8 64.15,67.3 64.09,66.8 64.08,66.3 64.10,65.8 64.14,65.3 64.17,64.8 64.19,64.3 64.19,63.8 64.17,63.3 64.14,62.8 64.11,62.3 64.08,61.8 64.08,61.3 64.12,60.8 64.18,60.3 64.28,59.8 64.39,59.3 64.52,58.8 64.66,58.3 64.81,57.8 65.06,57.3 65.39,56.8 65.73,56.3 66.45,55.8" fill="#b3112e" stroke="#000" stroke-opacity="0.65" stroke-width="0.55" stroke-linejoin="round"/>
<polygon points="66.55,79.3 67.08,79.8 67.16,80.3 67.13,80.8 67.03,81.3 66.55,81.8 66.45,81.8 65.97,81.3 65.87,80.8 65.84,80.3 65.92,79.8 66.45,79.3" fill="#b3112e" stroke="#000" stroke-opacity="0.65" stroke-width="0.55" stroke-linejoin="round"/>
<line x1="64.60" y1="58.5" x2="68.40" y2="58.5" stroke="#000" stroke-opacity="0.7" stroke-width="0.85"/>
<line x1="64.18" y1="63.6" x2="68.82" y2="63.6" stroke="#000" stroke-opacity="0.7" stroke-width="0.85"/>
<line x1="64.11" y1="67" x2="68.89" y2="67" stroke="#000" stroke-opacity="0.7" stroke-width="0.85"/>
<line x1="76.9" y1="47.2" x2="76.9" y2="72.7" stroke="#6e6e6e" stroke-width="0.75"/>
<polygon points="76.95,50.2 77.37,50.7 77.38,51.2 77.39,51.7 77.40,52.2 77.41,52.7 77.43,53.2 77.45,53.7 77.56,54.2 77.80,54.7 78.10,55.2 78.39,55.7 78.63,56.2 78.79,56.7 78.94,57.2 79.09,57.7 79.23,58.2 79.33,58.7 79.40,59.2 79.43,59.7 79.42,60.2 79.40,60.7 79.36,61.2 79.32,61.7 79.28,62.2 79.23,62.7 79.19,63.2 79.15,63.7 79.11,64.2 79.06,64.7 79.00,65.2 78.93,65.7 78.83,66.2 78.71,66.7 78.58,67.2 78.44,67.7 78.29,68.2 78.14,68.7 78.00,69.2 77.86,69.7 77.71,70.2 77.56,70.7 77.40,71.2 76.95,71.7 76.85,71.7 76.40,71.2 76.24,70.7 76.09,70.2 75.94,69.7 75.80,69.2 75.66,68.7 75.51,68.2 75.36,67.7 75.22,67.2 75.09,66.7 74.97,66.2 74.87,65.7 74.80,65.2 74.74,64.7 74.69,64.2 74.65,63.7 74.61,63.2 74.57,62.7 74.52,62.2 74.48,61.7 74.44,61.2 74.40,60.7 74.38,60.2 74.37,59.7 74.40,59.2 74.47,58.7 74.57,58.2 74.71,57.7 74.86,57.2 75.01,56.7 75.17,56.2 75.41,55.7 75.70,55.2 76.00,54.7 76.24,54.2 76.35,53.7 76.37,53.2 76.39,52.7 76.40,52.2 76.41,51.7 76.42,51.2 76.43,50.7 76.85,50.2" fill="#8886c4" stroke="#000" stroke-opacity="0.65" stroke-width="0.55" stroke-linejoin="round"/>
<line x1="74.62" y1="58" x2="79.18" y2="58" stroke="#000" stroke-opacity="0.7" stroke-width="0.85"/>
<line x1="74.46" y1="61.5" x2="79.34" y2="61.5" stroke="#000" stroke-opacity="0.7" stroke-width="0.85"/>
<line x1="74.81" y1="65.3" x2="78.99" y2="65.3" stroke="#000" stroke-opacity="0.7" stroke-width="0.85"/>
<line x1="87.4" y1="53.7" x2="87.4" y2="107.7" stroke="#6e6e6e" stroke-width="0.75"/>
<polygon points="87.45,58.2 88.01,58.7 88.21,59.2 88.41,59.7 88.59,60.2 88.75,60.7 88.90,61.2 89.05,61.7 89.19,62.2 89.33,62.7 89.45,63.2 89.55,63.7 89.63,64.2 89.70,64.7 89.76,65.2 89.82,65.7 89.87,66.2 89.91,66.7 89.93,67.2 89.93,67.7 89.90,68.2 89.85,68.7 89.79,69.2 89.74,69.7 89.71,70.2 89.69,70.7 89.67,71.2 89.66,71.7 89.65,72.2 89.64,72.7 89.63,73.2 89.61,73.7 89.59,74.2 89.57,74.7 89.54,75.2 89.51,75.7 89.48,76.2 89.44,76.7 89.39,77.2 89.32,77.7 89.20,78.2 89.05,78.7 88.88,79.2 88.72,79.7 88.57,80.2 88.46,80.7 88.35,81.2 88.25,81.7 88.16,82.2 88.08,82.7 88.00,83.2 87.94,83.7 87.88,84.2 87.45,84.7 87.35,84.7 86.92,84.2 86.86,83.7 86.80,83.2 86.72,82.7 86.64,82.2 86.55,81.7 86.45,81.2 86.34,80.7 86.23,80.2 86.08,79.7 85.92,79.2 85.75,78.7 85.60,78.2 85.48,77.7 85.41,77.2 85.36,76.7 85.32,76.2 85.29,75.7 85.26,75.2 85.23,74.7 85.21,74.2 85.19,73.7 85.17,73.2 85.16,72.7 85.15,72.2 85.14,71.7 85.13,71.2 85.11,70.7 85.09,70.2 85.06,69.7 85.01,69.2 84.95,68.7 84.90,68.2 84.87,67.7 84.87,67.2 84.89,66.7 84.93,66.2 84.98,65.7 85.04,65.2 85.10,64.7 85.17,64.2 85.25,63.7 85.35,63.2 85.47,62.7 85.61,62.2 85.75,61.7 85.90,61.2 86.05,60.7 86.21,60.2 86.39,59.7 86.59,59.2 86.79,58.7 87.35,58.2" fill="#2f9e33" stroke="#000" stroke-opacity="0.65" stroke-width="0.55" stroke-linejoin="round"/>
<line x1="85.03" y1="65.3" x2="89.77" y2="65.3" stroke="#000" stroke-opacity="0.7" stroke-width="0.85"/>
<line x1="84.89" y1="68" x2="89.91" y2="68" stroke="#000" stroke-opacity="0.7" stroke-width="0.85"/>
<line x1="85.09" y1="70.1" x2="89.71" y2="70.1" stroke="#000" stroke-opacity="0.7" stroke-width="0.85"/>
<line x1="105.2" y1="53.7" x2="105.2" y2="87.0" stroke="#6e6e6e" stroke-width="0.75"/>
<polygon points="105.25,57.2 105.73,57.7 105.88,58.2 106.03,58.7 106.17,59.2 106.30,59.7 106.41,60.2 106.53,60.7 106.64,61.2 106.75,61.7 106.85,62.2 106.95,62.7 107.05,63.2 107.13,63.7 107.21,64.2 107.29,64.7 107.38,65.2 107.46,65.7 107.53,66.2 107.58,66.7 107.61,67.2 107.61,67.7 107.48,68.2 107.28,68.7 107.07,69.2 106.90,69.7 106.74,70.2 106.59,70.7 106.44,71.2 106.32,71.7 106.22,72.2 106.12,72.7 106.02,73.2 105.94,73.7 105.86,74.2 105.80,74.7 105.76,75.2 105.73,75.7 105.70,76.2 105.67,76.7 105.25,77.2 105.15,77.2 104.73,76.7 104.70,76.2 104.67,75.7 104.64,75.2 104.60,74.7 104.54,74.2 104.46,73.7 104.38,73.2 104.28,72.7 104.18,72.2 104.08,71.7 103.96,71.2 103.81,70.7 103.66,70.2 103.50,69.7 103.33,69.2 103.12,68.7 102.92,68.2 102.79,67.7 102.79,67.2 102.82,66.7 102.87,66.2 102.94,65.7 103.02,65.2 103.11,64.7 103.19,64.2 103.27,63.7 103.35,63.2 103.45,62.7 103.55,62.2 103.65,61.7 103.76,61.2 103.87,60.7 103.99,60.2 104.10,59.7 104.23,59.2 104.37,58.7 104.52,58.2 104.67,57.7 105.15,57.2" fill="#b3112e" stroke="#000" stroke-opacity="0.65" stroke-width="0.55" stroke-linejoin="round"/>
<polygon points="105.25,80.2 105.66,80.7 105.76,81.2 105.84,81.7 105.86,82.2 105.85,82.7 105.84,83.2 105.81,83.7 105.77,84.2 105.71,84.7 105.25,85.2 105.15,85.2 104.69,84.7 104.63,84.2 104.59,83.7 104.56,83.2 104.55,82.7 104.54,82.2 104.56,81.7 104.64,81.2 104.74,80.7 105.15,80.2" fill="#b3112e" stroke="#000" stroke-opacity="0.65" stroke-width="0.55" stroke-linejoin="round"/>
<line x1="103.59" y1="62" x2="106.81" y2="62" stroke="#000" stroke-opacity="0.7" stroke-width="0.85"/>
<line x1="102.78" y1="67.5" x2="107.62" y2="67.5" stroke="#000" stroke-opacity="0.7" stroke-width="0.85"/>
<line x1="103.90" y1="71" x2="106.50" y2="71" stroke="#000" stroke-opacity="0.7" stroke-width="0.85"/>
<line x1="115.4" y1="51.9" x2="115.4" y2="73.6" stroke="#6e6e6e" stroke-width="0.75"/>
<polygon points="115.45,53.9 115.90,54.4 116.10,54.9 116.33,55.4 116.57,55.9 116.79,56.4 116.99,56.9 117.14,57.4 117.29,57.9 117.45,58.4 117.59,58.9 117.72,59.4 117.82,59.9 117.90,60.4 117.93,60.9 117.92,61.4 117.89,61.9 117.85,62.4 117.79,62.9 117.72,63.4 117.64,63.9 117.57,64.4 117.49,64.9 117.40,65.4 117.30,65.9 117.19,66.4 117.07,66.9 116.96,67.4 116.85,67.9 116.76,68.4 116.67,68.9 116.59,69.4 116.50,69.9 116.41,70.4 116.30,70.9 116.18,71.4 116.03,71.9 115.45,72.4 115.35,72.4 114.77,71.9 114.62,71.4 114.50,70.9 114.39,70.4 114.30,69.9 114.21,69.4 114.13,68.9 114.04,68.4 113.95,67.9 113.84,67.4 113.73,66.9 113.61,66.4 113.50,65.9 113.40,65.4 113.31,64.9 113.23,64.4 113.16,63.9 113.08,63.4 113.01,62.9 112.95,62.4 112.91,61.9 112.88,61.4 112.87,60.9 112.90,60.4 112.98,59.9 113.08,59.4 113.21,58.9 113.35,58.4 113.51,57.9 113.66,57.4 113.81,56.9 114.01,56.4 114.23,55.9 114.47,55.4 114.70,54.9 114.90,54.4 115.35,53.9" fill="#8886c4" stroke="#000" stroke-opacity="0.65" stroke-width="0.55" stroke-linejoin="round"/>
<line x1="112.93" y1="60.2" x2="117.87" y2="60.2" stroke="#000" stroke-opacity="0.7" stroke-width="0.85"/>
<line x1="112.99" y1="62.7" x2="117.81" y2="62.7" stroke="#000" stroke-opacity="0.7" stroke-width="0.85"/>
<line x1="113.31" y1="64.9" x2="117.49" y2="64.9" stroke="#000" stroke-opacity="0.7" stroke-width="0.85"/>
<line x1="126.3" y1="56.3" x2="126.3" y2="107.0" stroke="#6e6e6e" stroke-width="0.75"/>
<polygon points="126.35,59.3 126.82,59.8 127.03,60.3 127.25,60.8 127.47,61.3 127.67,61.8 127.84,62.3 127.98,62.8 128.12,63.3 128.25,63.8 128.37,64.3 128.47,64.8 128.55,65.3 128.63,65.8 128.70,66.3 128.76,66.8 128.81,67.3 128.83,67.8 128.82,68.3 128.80,68.8 128.76,69.3 128.72,69.8 128.67,70.3 128.63,70.8 128.59,71.3 128.56,71.8 128.52,72.3 128.49,72.8 128.46,73.3 128.42,73.8 128.38,74.3 128.33,74.8 128.28,75.3 128.20,75.8 128.10,76.3 127.97,76.8 127.83,77.3 127.69,77.8 127.56,78.3 127.44,78.8 127.34,79.3 127.25,79.8 127.15,80.3 127.06,80.8 126.98,81.3 126.91,81.8 126.85,82.3 126.79,82.8 126.35,83.3 126.25,83.3 125.81,82.8 125.75,82.3 125.69,81.8 125.62,81.3 125.54,80.8 125.45,80.3 125.35,79.8 125.26,79.3 125.16,78.8 125.04,78.3 124.91,77.8 124.77,77.3 124.63,76.8 124.50,76.3 124.40,75.8 124.32,75.3 124.27,74.8 124.22,74.3 124.18,73.8 124.14,73.3 124.11,72.8 124.08,72.3 124.04,71.8 124.01,71.3 123.97,70.8 123.93,70.3 123.88,69.8 123.84,69.3 123.80,68.8 123.78,68.3 123.77,67.8 123.79,67.3 123.84,66.8 123.90,66.3 123.97,65.8 124.05,65.3 124.13,64.8 124.23,64.3 124.35,63.8 124.48,63.3 124.62,62.8 124.76,62.3 124.93,61.8 125.13,61.3 125.35,60.8 125.57,60.3 125.78,59.8 126.25,59.3" fill="#2f9e33" stroke="#000" stroke-opacity="0.65" stroke-width="0.55" stroke-linejoin="round"/>
<line x1="124.19" y1="64.5" x2="128.41" y2="64.5" stroke="#000" stroke-opacity="0.7" stroke-width="0.85"/>
<line x1="123.77" y1="67.9" x2="128.83" y2="67.9" stroke="#000" stroke-opacity="0.7" stroke-width="0.85"/>
<line x1="123.99" y1="71" x2="128.61" y2="71" stroke="#000" stroke-opacity="0.7" stroke-width="0.85"/>
<line x1="144.0" y1="54.5" x2="144.0" y2="101.5" stroke="#6e6e6e" stroke-width="0.75"/>
<polygon points="144.05,62.5 145.01,63.0 145.59,63.5 145.84,64.0 146.05,64.5 146.24,65.0 146.39,65.5 146.49,66.0 146.53,66.5 146.50,67.0 146.40,67.5 146.26,68.0 146.10,68.5 145.94,69.0 145.82,69.5 145.76,70.0 145.79,70.5 145.88,71.0 146.01,71.5 146.12,72.0 146.19,72.5 146.20,73.0 146.20,73.5 146.20,74.0 146.18,74.5 146.07,75.0 145.89,75.5 145.66,76.0 145.42,76.5 145.18,77.0 144.99,77.5 144.80,78.0 144.61,78.5 144.05,79.0 143.95,79.0 143.39,78.5 143.20,78.0 143.01,77.5 142.82,77.0 142.58,76.5 142.34,76.0 142.11,75.5 141.93,75.0 141.82,74.5 141.80,74.0 141.80,73.5 141.80,73.0 141.81,72.5 141.88,72.0 141.99,71.5 142.12,71.0 142.21,70.5 142.24,70.0 142.18,69.5 142.06,69.0 141.90,68.5 141.74,68.0 141.60,67.5 141.50,67.0 141.47,66.5 141.51,66.0 141.61,65.5 141.76,65.0 141.95,64.5 142.16,64.0 142.41,63.5 142.99,63.0 143.95,62.5" fill="#b3112e" stroke="#000" stroke-opacity="0.65" stroke-width="0.55" stroke-linejoin="round"/>
<polygon points="144.05,83.5 144.47,84.0 144.48,84.5 144.49,85.0 144.49,85.5 144.49,86.0 144.49,86.5 144.47,87.0 144.05,87.5 143.95,87.5 143.53,87.0 143.51,86.5 143.51,86.0 143.51,85.5 143.51,85.0 143.52,84.5 143.53,84.0 143.95,83.5" fill="#b3112e" stroke="#000" stroke-opacity="0.65" stroke-width="0.55" stroke-linejoin="round"/>
<line x1="142.41" y1="63.5" x2="145.59" y2="63.5" stroke="#000" stroke-opacity="0.7" stroke-width="0.85"/>
<line x1="141.47" y1="66.6" x2="146.53" y2="66.6" stroke="#000" stroke-opacity="0.7" stroke-width="0.85"/>
<line x1="141.80" y1="72.7" x2="146.20" y2="72.7" stroke="#000" stroke-opacity="0.7" stroke-width="0.85"/>
<line x1="154.4" y1="51.9" x2="154.4" y2="81.6" stroke="#6e6e6e" stroke-width="0.75"/>
<polygon points="154.45,56.4 154.87,56.9 154.98,57.4 155.08,57.9 155.17,58.4 155.23,58.9 155.27,59.4 155.27,59.9 155.17,60.4 155.04,60.9 154.95,61.4 155.04,61.9 155.33,62.4 155.72,62.9 156.10,63.4 156.35,63.9 156.46,64.4 156.56,64.9 156.64,65.4 156.71,65.9 156.77,66.4 156.80,66.9 156.82,67.4 156.81,67.9 156.79,68.4 156.75,68.9 156.69,69.4 156.63,69.9 156.57,70.4 156.50,70.9 156.44,71.4 156.36,71.9 156.28,72.4 156.18,72.9 156.09,73.4 155.99,73.9 155.88,74.4 155.78,74.9 155.68,75.4 155.58,75.9 155.48,76.4 155.39,76.9 155.31,77.4 155.23,77.9 155.14,78.4 155.06,78.9 154.96,79.4 154.86,79.9 154.45,80.4 154.35,80.4 153.94,79.9 153.84,79.4 153.74,78.9 153.66,78.4 153.57,77.9 153.49,77.4 153.41,76.9 153.32,76.4 153.22,75.9 153.12,75.4 153.02,74.9 152.92,74.4 152.81,73.9 152.71,73.4 152.62,72.9 152.52,72.4 152.44,71.9 152.36,71.4 152.30,70.9 152.23,70.4 152.17,69.9 152.11,69.4 152.05,68.9 152.01,68.4 151.99,67.9 151.98,67.4 152.00,66.9 152.03,66.4 152.09,65.9 152.16,65.4 152.24,64.9 152.34,64.4 152.45,63.9 152.70,63.4 153.08,62.9 153.47,62.4 153.76,61.9 153.85,61.4 153.76,60.9 153.63,60.4 153.53,59.9 153.53,59.4 153.57,58.9 153.63,58.4 153.72,57.9 153.82,57.4 153.93,56.9 154.35,56.4" fill="#8886c4" stroke="#000" stroke-opacity="0.65" stroke-width="0.55" stroke-linejoin="round"/>
<line x1="152.17" y1="65.3" x2="156.63" y2="65.3" stroke="#000" stroke-opacity="0.7" stroke-width="0.85"/>
<line x1="151.99" y1="68" x2="156.81" y2="68" stroke="#000" stroke-opacity="0.7" stroke-width="0.85"/>
<line x1="152.31" y1="71" x2="156.49" y2="71" stroke="#000" stroke-opacity="0.7" stroke-width="0.85"/>
<line x1="164.6" y1="54.5" x2="164.6" y2="109.4" stroke="#6e6e6e" stroke-width="0.75"/>
<polygon points="164.65,58.5 165.12,59.0 165.24,59.5 165.37,60.0 165.50,60.5 165.63,61.0 165.75,61.5 165.86,62.0 165.96,62.5 166.05,63.0 166.14,63.5 166.23,64.0 166.32,64.5 166.41,65.0 166.49,65.5 166.57,66.0 166.65,66.5 166.73,67.0 166.80,67.5 166.88,68.0 166.96,68.5 167.04,69.0 167.12,69.5 167.18,70.0 167.22,70.5 167.24,71.0 167.23,71.5 167.20,72.0 167.17,72.5 167.12,73.0 167.08,73.5 167.03,74.0 167.00,74.5 166.96,75.0 166.91,75.5 166.87,76.0 166.83,76.5 166.81,77.0 166.80,77.5 166.80,78.0 166.80,78.5 166.80,79.0 166.80,79.5 166.80,80.0 166.80,80.5 166.77,81.0 166.68,81.5 166.56,82.0 166.40,82.5 166.24,83.0 166.07,83.5 165.92,84.0 165.77,84.5 165.60,85.0 165.43,85.5 165.27,86.0 165.15,86.5 164.65,87.0 164.55,87.0 164.05,86.5 163.93,86.0 163.77,85.5 163.60,85.0 163.43,84.5 163.28,84.0 163.13,83.5 162.96,83.0 162.80,82.5 162.64,82.0 162.52,81.5 162.43,81.0 162.40,80.5 162.40,80.0 162.40,79.5 162.40,79.0 162.40,78.5 162.40,78.0 162.40,77.5 162.39,77.0 162.37,76.5 162.33,76.0 162.29,75.5 162.24,75.0 162.20,74.5 162.17,74.0 162.12,73.5 162.08,73.0 162.03,72.5 162.00,72.0 161.97,71.5 161.96,71.0 161.98,70.5 162.02,70.0 162.08,69.5 162.16,69.0 162.24,68.5 162.32,68.0 162.40,67.5 162.47,67.0 162.55,66.5 162.63,66.0 162.71,65.5 162.79,65.0 162.88,64.5 162.97,64.0 163.06,63.5 163.15,63.0 163.24,62.5 163.34,62.0 163.45,61.5 163.57,61.0 163.70,60.5 163.83,60.0 163.96,59.5 164.08,59.0 164.55,58.5" fill="#2f9e33" stroke="#000" stroke-opacity="0.65" stroke-width="0.55" stroke-linejoin="round"/>
<line x1="161.96" y1="71" x2="167.24" y2="71" stroke="#000" stroke-opacity="0.7" stroke-width="0.85"/>
<line x1="162.19" y1="74.4" x2="167.01" y2="74.4" stroke="#000" stroke-opacity="0.7" stroke-width="0.85"/>
<line x1="162.40" y1="80.5" x2="166.80" y2="80.5" stroke="#000" stroke-opacity="0.7" stroke-width="0.85"/>
<line x1="182.6" y1="57.9" x2="182.6" y2="97.0" stroke="#6e6e6e" stroke-width="0.75"/>
<polygon points="182.65,62.4 183.16,62.9 183.40,63.4 183.67,63.9 183.89,64.4 184.02,64.9 184.14,65.4 184.25,65.9 184.34,66.4 184.42,66.9 184.50,67.4 184.57,67.9 184.63,68.4 184.70,68.9 184.77,69.4 184.84,69.9 184.90,70.4 184.96,70.9 185.01,71.4 185.06,71.9 185.09,72.4 185.12,72.9 185.13,73.4 185.12,73.9 185.06,74.4 184.95,74.9 184.82,75.4 184.67,75.9 184.52,76.4 184.38,76.9 184.26,77.4 184.13,77.9 183.99,78.4 183.85,78.9 183.72,79.4 183.60,79.9 183.50,80.4 183.41,80.9 183.33,81.4 183.25,81.9 183.17,82.4 183.11,82.9 183.07,83.4 182.65,83.9 182.55,83.9 182.13,83.4 182.09,82.9 182.03,82.4 181.95,81.9 181.87,81.4 181.79,80.9 181.70,80.4 181.60,79.9 181.48,79.4 181.35,78.9 181.21,78.4 181.07,77.9 180.94,77.4 180.82,76.9 180.68,76.4 180.53,75.9 180.38,75.4 180.25,74.9 180.14,74.4 180.08,73.9 180.07,73.4 180.08,72.9 180.11,72.4 180.14,71.9 180.19,71.4 180.24,70.9 180.30,70.4 180.36,69.9 180.43,69.4 180.50,68.9 180.57,68.4 180.63,67.9 180.70,67.4 180.78,66.9 180.86,66.4 180.95,65.9 181.06,65.4 181.18,64.9 181.31,64.4 181.53,63.9 181.80,63.4 182.04,62.9 182.55,62.4" fill="#b3112e" stroke="#000" stroke-opacity="0.65" stroke-width="0.55" stroke-linejoin="round"/>
<line x1="180.35" y1="70" x2="184.85" y2="70" stroke="#000" stroke-opacity="0.7" stroke-width="0.85"/>
<line x1="180.07" y1="73.6" x2="185.13" y2="73.6" stroke="#000" stroke-opacity="0.7" stroke-width="0.85"/>
<line x1="180.71" y1="76.5" x2="184.49" y2="76.5" stroke="#000" stroke-opacity="0.7" stroke-width="0.85"/>
<line x1="193.4" y1="57.9" x2="193.4" y2="91.0" stroke="#6e6e6e" stroke-width="0.75"/>
<polygon points="193.45,69.4 193.92,69.9 194.14,70.4 194.47,70.9 194.78,71.4 195.00,71.9 195.22,72.4 195.42,72.9 195.59,73.4 195.73,73.9 195.81,74.4 195.82,74.9 195.79,75.4 195.73,75.9 195.66,76.4 195.57,76.9 195.47,77.4 195.31,77.9 195.10,78.4 194.86,78.9 194.65,79.4 194.46,79.9 194.28,80.4 194.11,80.9 193.97,81.4 193.87,81.9 193.45,82.4 193.35,82.4 192.93,81.9 192.83,81.4 192.69,80.9 192.52,80.4 192.34,79.9 192.15,79.4 191.94,78.9 191.70,78.4 191.49,77.9 191.33,77.4 191.23,76.9 191.14,76.4 191.07,75.9 191.01,75.4 190.98,74.9 190.99,74.4 191.07,73.9 191.21,73.4 191.38,72.9 191.58,72.4 191.80,71.9 192.02,71.4 192.33,70.9 192.66,70.4 192.88,69.9 193.35,69.4" fill="#8886c4" stroke="#000" stroke-opacity="0.65" stroke-width="0.55" stroke-linejoin="round"/>
<line x1="191.34" y1="73" x2="195.46" y2="73" stroke="#000" stroke-opacity="0.7" stroke-width="0.85"/>
<line x1="190.98" y1="74.7" x2="195.82" y2="74.7" stroke="#000" stroke-opacity="0.7" stroke-width="0.85"/>
<line x1="191.31" y1="77.3" x2="195.49" y2="77.3" stroke="#000" stroke-opacity="0.7" stroke-width="0.85"/>
<line x1="203.6" y1="57.9" x2="203.6" y2="135.6" stroke="#6e6e6e" stroke-width="0.75"/>
<polygon points="203.65,62.9 204.14,63.4 204.25,63.9 204.37,64.4 204.49,64.9 204.61,65.4 204.72,65.9 204.86,66.4 205.00,66.9 205.16,67.4 205.31,67.9 205.45,68.4 205.56,68.9 205.65,69.4 205.75,69.9 205.84,70.4 205.92,70.9 206.00,71.4 206.06,71.9 206.11,72.4 206.13,72.9 206.11,73.4 205.99,73.9 205.81,74.4 205.61,74.9 205.42,75.4 205.29,75.9 205.25,76.4 205.32,76.9 205.46,77.4 205.62,77.9 205.75,78.4 205.80,78.9 205.75,79.4 205.64,79.9 205.51,80.4 205.38,80.9 205.28,81.4 205.17,81.9 205.07,82.4 204.96,82.9 204.87,83.4 204.79,83.9 204.73,84.4 204.69,84.9 204.66,85.4 204.63,85.9 204.61,86.4 204.59,86.9 204.57,87.4 204.55,87.9 204.54,88.4 204.52,88.9 204.50,89.4 204.48,89.9 204.46,90.4 204.44,90.9 204.42,91.4 204.41,91.9 204.39,92.4 204.37,92.9 204.35,93.4 204.33,93.9 204.31,94.4 204.29,94.9 204.26,95.4 204.24,95.9 204.21,96.4 204.18,96.9 204.15,97.4 204.12,97.9 204.09,98.4 204.07,98.9 203.65,99.4 203.55,99.4 203.13,98.9 203.11,98.4 203.08,97.9 203.05,97.4 203.02,96.9 202.99,96.4 202.96,95.9 202.94,95.4 202.91,94.9 202.89,94.4 202.87,93.9 202.85,93.4 202.83,92.9 202.81,92.4 202.79,91.9 202.78,91.4 202.76,90.9 202.74,90.4 202.72,89.9 202.70,89.4 202.68,88.9 202.66,88.4 202.65,87.9 202.63,87.4 202.61,86.9 202.59,86.4 202.57,85.9 202.54,85.4 202.51,84.9 202.47,84.4 202.41,83.9 202.33,83.4 202.24,82.9 202.13,82.4 202.03,81.9 201.92,81.4 201.82,80.9 201.69,80.4 201.56,79.9 201.45,79.4 201.40,78.9 201.45,78.4 201.58,77.9 201.74,77.4 201.88,76.9 201.95,76.4 201.91,75.9 201.78,75.4 201.59,74.9 201.39,74.4 201.21,73.9 201.09,73.4 201.07,72.9 201.09,72.4 201.14,71.9 201.20,71.4 201.28,70.9 201.36,70.4 201.45,69.9 201.55,69.4 201.64,68.9 201.75,68.4 201.89,67.9 202.04,67.4 202.20,66.9 202.34,66.4 202.48,65.9 202.59,65.4 202.71,64.9 202.83,64.4 202.95,63.9 203.06,63.4 203.55,62.9" fill="#2f9e33" stroke="#000" stroke-opacity="0.65" stroke-width="0.55" stroke-linejoin="round"/>
<line x1="201.07" y1="73.1" x2="206.13" y2="73.1" stroke="#000" stroke-opacity="0.7" stroke-width="0.85"/>
<line x1="201.95" y1="76.3" x2="205.25" y2="76.3" stroke="#000" stroke-opacity="0.7" stroke-width="0.85"/>
<line x1="201.45" y1="78.4" x2="205.75" y2="78.4" stroke="#000" stroke-opacity="0.7" stroke-width="0.85"/>
<line x1="319.7" y1="57.1" x2="319.7" y2="71.9" stroke="#6e6e6e" stroke-width="0.75"/>
<polygon points="319.75,57.6 320.35,58.1 320.64,58.6 320.95,59.1 321.27,59.6 321.57,60.1 321.79,60.6 321.90,61.1 321.86,61.6 321.75,62.1 321.61,62.6 321.50,63.1 321.46,63.6 321.54,64.1 321.68,64.6 321.83,65.1 321.94,65.6 322.07,66.1 322.19,66.6 322.29,67.1 322.34,67.6 322.29,68.1 322.13,68.6 321.88,69.1 321.59,69.6 321.29,70.1 320.94,70.6 320.50,71.1 319.75,71.6 319.65,71.6 318.90,71.1 318.46,70.6 318.11,70.1 317.81,69.6 317.52,69.1 317.27,68.6 317.11,68.1 317.06,67.6 317.11,67.1 317.21,66.6 317.33,66.1 317.46,65.6 317.57,65.1 317.72,64.6 317.86,64.1 317.94,63.6 317.90,63.1 317.79,62.6 317.65,62.1 317.54,61.6 317.50,61.1 317.61,60.6 317.83,60.1 318.13,59.6 318.45,59.1 318.76,58.6 319.05,58.1 319.65,57.6" fill="#de8e1e" stroke="#000" stroke-opacity="0.65" stroke-width="0.55" stroke-linejoin="round"/>
<line x1="317.50" y1="61.2" x2="321.90" y2="61.2" stroke="#000" stroke-opacity="0.7" stroke-width="0.85"/>
<line x1="317.50" y1="65.4" x2="321.90" y2="65.4" stroke="#000" stroke-opacity="0.7" stroke-width="0.85"/>
<line x1="317.06" y1="67.7" x2="322.34" y2="67.7" stroke="#000" stroke-opacity="0.7" stroke-width="0.85"/>
<line x1="330.7" y1="57.7" x2="330.7" y2="77.8" stroke="#6e6e6e" stroke-width="0.75"/>
<polygon points="330.75,58.2 331.31,58.7 331.58,59.2 331.86,59.7 332.15,60.2 332.40,60.7 332.59,61.2 332.68,61.7 332.66,62.2 332.58,62.7 332.46,63.2 332.32,63.7 332.19,64.2 332.09,64.7 332.03,65.2 332.06,65.7 332.29,66.2 332.62,66.7 332.96,67.2 333.19,67.7 333.21,68.2 333.03,68.7 332.71,69.2 332.33,69.7 331.97,70.2 331.69,70.7 331.48,71.2 331.29,71.7 330.75,72.2 330.65,72.2 330.11,71.7 329.92,71.2 329.71,70.7 329.43,70.2 329.07,69.7 328.69,69.2 328.37,68.7 328.19,68.2 328.21,67.7 328.44,67.2 328.77,66.7 329.11,66.2 329.34,65.7 329.37,65.2 329.31,64.7 329.21,64.2 329.08,63.7 328.94,63.2 328.82,62.7 328.74,62.2 328.72,61.7 328.81,61.2 329.00,60.7 329.25,60.2 329.54,59.7 329.82,59.2 330.09,58.7 330.65,58.2" fill="#de8e1e" stroke="#000" stroke-opacity="0.65" stroke-width="0.55" stroke-linejoin="round"/>
<line x1="328.72" y1="61.8" x2="332.68" y2="61.8" stroke="#000" stroke-opacity="0.7" stroke-width="0.85"/>
<line x1="329.38" y1="65.4" x2="332.02" y2="65.4" stroke="#000" stroke-opacity="0.7" stroke-width="0.85"/>
<line x1="328.17" y1="68" x2="333.23" y2="68" stroke="#000" stroke-opacity="0.7" stroke-width="0.85"/>
<line x1="341.6" y1="62.4" x2="341.6" y2="103.7" stroke="#6e6e6e" stroke-width="0.75"/>
<polygon points="341.65,62.9 342.41,63.4 342.75,63.9 343.05,64.4 343.29,64.9 343.51,65.4 343.73,65.9 343.93,66.4 344.11,66.9 344.24,67.4 344.33,67.9 344.35,68.4 344.29,68.9 344.15,69.4 343.98,69.9 343.79,70.4 343.61,70.9 343.45,71.4 343.26,71.9 343.07,72.4 342.87,72.9 342.70,73.4 342.55,73.9 342.44,74.4 342.34,74.9 342.24,75.4 342.16,75.9 342.09,76.4 341.65,76.9 341.55,76.9 341.11,76.4 341.04,75.9 340.96,75.4 340.86,74.9 340.76,74.4 340.65,73.9 340.50,73.4 340.33,72.9 340.13,72.4 339.94,71.9 339.75,71.4 339.59,70.9 339.41,70.4 339.22,69.9 339.05,69.4 338.91,68.9 338.85,68.4 338.87,67.9 338.96,67.4 339.09,66.9 339.27,66.4 339.47,65.9 339.69,65.4 339.91,64.9 340.15,64.4 340.45,63.9 340.79,63.4 341.55,62.9" fill="#de8e1e" stroke="#000" stroke-opacity="0.65" stroke-width="0.55" stroke-linejoin="round"/>
<polygon points="341.65,96.4 342.11,96.9 342.23,97.4 342.33,97.9 342.37,98.4 342.33,98.9 342.23,99.4 342.11,99.9 341.65,100.4 341.55,100.4 341.09,99.9 340.97,99.4 340.87,98.9 340.83,98.4 340.87,97.9 340.97,97.4 341.09,96.9 341.55,96.4" fill="#de8e1e" stroke="#000" stroke-opacity="0.65" stroke-width="0.55" stroke-linejoin="round"/>
<line x1="339.64" y1="65.5" x2="343.56" y2="65.5" stroke="#000" stroke-opacity="0.7" stroke-width="0.85"/>
<line x1="338.85" y1="68.3" x2="344.35" y2="68.3" stroke="#000" stroke-opacity="0.7" stroke-width="0.85"/>
<line x1="339.45" y1="70.5" x2="343.75" y2="70.5" stroke="#000" stroke-opacity="0.7" stroke-width="0.85"/>
<line x1="352.4" y1="67.1" x2="352.4" y2="81.3" stroke="#6e6e6e" stroke-width="0.75"/>
<polygon points="352.45,73.6 353.14,74.1 355.48,74.6 354.99,75.1 354.25,75.6 353.57,76.1 353.11,76.6 352.45,77.1 352.35,77.1 351.69,76.6 351.23,76.1 350.55,75.6 349.81,75.1 349.32,74.6 351.66,74.1 352.35,73.6" fill="#de8e1e" stroke="#000" stroke-opacity="0.65" stroke-width="0.55" stroke-linejoin="round"/>
<line x1="349.32" y1="74.6" x2="355.48" y2="74.6" stroke="#000" stroke-opacity="0.7" stroke-width="0.85"/>
<line x1="371.2" y1="51.5" x2="371.2" y2="86.9" stroke="#6e6e6e" stroke-width="0.75"/>
<polygon points="371.25,55.5 371.81,56.0 372.04,56.5 372.29,57.0 372.52,57.5 372.73,58.0 372.94,58.5 373.13,59.0 373.29,59.5 373.44,60.0 373.58,60.5 373.69,61.0 373.73,61.5 373.72,62.0 373.71,62.5 373.68,63.0 373.65,63.5 373.61,64.0 373.55,64.5 373.47,65.0 373.37,65.5 373.26,66.0 373.16,66.5 373.07,67.0 373.00,67.5 372.93,68.0 372.87,68.5 372.81,69.0 372.75,69.5 372.69,70.0 372.62,70.5 372.54,71.0 372.47,71.5 372.39,72.0 372.31,72.5 372.23,73.0 372.14,73.5 372.05,74.0 371.96,74.5 371.86,75.0 371.73,75.5 371.25,76.0 371.15,76.0 370.67,75.5 370.54,75.0 370.44,74.5 370.35,74.0 370.26,73.5 370.17,73.0 370.09,72.5 370.01,72.0 369.93,71.5 369.86,71.0 369.78,70.5 369.71,70.0 369.65,69.5 369.59,69.0 369.53,68.5 369.47,68.0 369.40,67.5 369.33,67.0 369.24,66.5 369.14,66.0 369.03,65.5 368.93,65.0 368.85,64.5 368.79,64.0 368.75,63.5 368.72,63.0 368.69,62.5 368.68,62.0 368.67,61.5 368.71,61.0 368.82,60.5 368.96,60.0 369.11,59.5 369.27,59.0 369.46,58.5 369.67,58.0 369.88,57.5 370.11,57.0 370.36,56.5 370.59,56.0 371.15,55.5" fill="#2ba4d8" stroke="#000" stroke-opacity="0.65" stroke-width="0.55" stroke-linejoin="round"/>
<polygon points="371.25,78.0 371.83,78.5 371.96,79.0 371.94,79.5 371.81,80.0 371.25,80.5 371.15,80.5 370.59,80.0 370.46,79.5 370.44,79.0 370.57,78.5 371.15,78.0" fill="#2ba4d8" stroke="#000" stroke-opacity="0.65" stroke-width="0.55" stroke-linejoin="round"/>
<line x1="368.67" y1="61.5" x2="373.73" y2="61.5" stroke="#000" stroke-opacity="0.7" stroke-width="0.85"/>
<line x1="368.78" y1="63.9" x2="373.62" y2="63.9" stroke="#000" stroke-opacity="0.7" stroke-width="0.85"/>
<line x1="369.77" y1="70.4" x2="372.63" y2="70.4" stroke="#000" stroke-opacity="0.7" stroke-width="0.85"/>
<line x1="382.3" y1="54.5" x2="382.3" y2="87.5" stroke="#6e6e6e" stroke-width="0.75"/>
<polygon points="382.35,58.5 382.85,59.0 383.05,59.5 383.33,60.0 383.61,60.5 383.84,61.0 384.01,61.5 384.19,62.0 384.35,62.5 384.50,63.0 384.62,63.5 384.69,64.0 384.72,64.5 384.71,65.0 384.68,65.5 384.64,66.0 384.59,66.5 384.53,67.0 384.46,67.5 384.39,68.0 384.29,68.5 384.16,69.0 384.01,69.5 383.86,70.0 383.73,70.5 383.62,71.0 383.53,71.5 383.44,72.0 383.35,72.5 383.26,73.0 383.16,73.5 383.05,74.0 382.92,74.5 382.79,75.0 382.35,75.5 382.25,75.5 381.81,75.0 381.68,74.5 381.55,74.0 381.44,73.5 381.34,73.0 381.25,72.5 381.16,72.0 381.07,71.5 380.98,71.0 380.87,70.5 380.74,70.0 380.59,69.5 380.44,69.0 380.31,68.5 380.21,68.0 380.14,67.5 380.07,67.0 380.01,66.5 379.96,66.0 379.92,65.5 379.89,65.0 379.88,64.5 379.91,64.0 379.98,63.5 380.10,63.0 380.25,62.5 380.41,62.0 380.59,61.5 380.76,61.0 380.99,60.5 381.27,60.0 381.55,59.5 381.75,59.0 382.25,58.5" fill="#2ba4d8" stroke="#000" stroke-opacity="0.65" stroke-width="0.55" stroke-linejoin="round"/>
<polygon points="382.35,80.0 382.86,80.5 383.00,81.0 383.07,81.5 383.01,82.0 382.81,82.5 382.35,83.0 382.25,83.0 381.79,82.5 381.59,82.0 381.53,81.5 381.60,81.0 381.74,80.5 382.25,80.0" fill="#2ba4d8" stroke="#000" stroke-opacity="0.65" stroke-width="0.55" stroke-linejoin="round"/>
<line x1="380.41" y1="62" x2="384.19" y2="62" stroke="#000" stroke-opacity="0.7" stroke-width="0.85"/>
<line x1="379.88" y1="64.5" x2="384.72" y2="64.5" stroke="#000" stroke-opacity="0.7" stroke-width="0.85"/>
<line x1="380.21" y1="68" x2="384.39" y2="68" stroke="#000" stroke-opacity="0.7" stroke-width="0.85"/>
<line x1="393.3" y1="54.5" x2="393.3" y2="92.2" stroke="#6e6e6e" stroke-width="0.75"/>
<polygon points="393.35,58.5 393.85,59.0 394.02,59.5 394.26,60.0 394.51,60.5 394.76,61.0 394.95,61.5 395.11,62.0 395.27,62.5 395.43,63.0 395.58,63.5 395.71,64.0 395.82,64.5 395.90,65.0 395.94,65.5 395.94,66.0 395.91,66.5 395.87,67.0 395.82,67.5 395.76,68.0 395.69,68.5 395.63,69.0 395.58,69.5 395.52,70.0 395.46,70.5 395.39,71.0 395.32,71.5 395.26,72.0 395.19,72.5 395.12,73.0 395.05,73.5 394.98,74.0 394.91,74.5 394.85,75.0 394.78,75.5 394.71,76.0 394.64,76.5 394.57,77.0 394.49,77.5 394.41,78.0 394.33,78.5 394.24,79.0 394.13,79.5 393.98,80.0 393.81,80.5 393.35,81.0 393.25,81.0 392.79,80.5 392.62,80.0 392.47,79.5 392.36,79.0 392.27,78.5 392.19,78.0 392.11,77.5 392.03,77.0 391.96,76.5 391.89,76.0 391.82,75.5 391.75,75.0 391.69,74.5 391.62,74.0 391.55,73.5 391.48,73.0 391.41,72.5 391.34,72.0 391.28,71.5 391.21,71.0 391.14,70.5 391.08,70.0 391.02,69.5 390.97,69.0 390.91,68.5 390.84,68.0 390.78,67.5 390.73,67.0 390.69,66.5 390.66,66.0 390.66,65.5 390.70,65.0 390.78,64.5 390.89,64.0 391.02,63.5 391.17,63.0 391.33,62.5 391.49,62.0 391.65,61.5 391.84,61.0 392.09,60.5 392.34,60.0 392.58,59.5 392.75,59.0 393.25,58.5" fill="#2ba4d8" stroke="#000" stroke-opacity="0.65" stroke-width="0.55" stroke-linejoin="round"/>
<polygon points="393.35,83.5 393.88,84.0 394.00,84.5 394.06,85.0 394.04,85.5 393.91,86.0 393.35,86.5 393.25,86.5 392.69,86.0 392.56,85.5 392.54,85.0 392.60,84.5 392.72,84.0 393.25,83.5" fill="#2ba4d8" stroke="#000" stroke-opacity="0.65" stroke-width="0.55" stroke-linejoin="round"/>
<line x1="390.69" y1="65.1" x2="395.91" y2="65.1" stroke="#000" stroke-opacity="0.7" stroke-width="0.85"/>
<line x1="390.99" y1="69.2" x2="395.61" y2="69.2" stroke="#000" stroke-opacity="0.7" stroke-width="0.85"/>
<line x1="391.54" y1="73.4" x2="395.06" y2="73.4" stroke="#000" stroke-opacity="0.7" stroke-width="0.85"/>
<line x1="404.0" y1="56.8" x2="404.0" y2="100.5" stroke="#6e6e6e" stroke-width="0.75"/>
<polygon points="404.05,60.8 404.50,61.3 404.63,61.8 404.80,62.3 405.00,62.8 405.19,63.3 405.37,63.8 405.52,64.3 405.66,64.8 405.80,65.3 405.94,65.8 406.07,66.3 406.20,66.8 406.31,67.3 406.41,67.8 406.49,68.3 406.56,68.8 406.62,69.3 406.68,69.8 406.72,70.3 406.75,70.8 406.74,71.3 406.70,71.8 406.63,72.3 406.54,72.8 406.44,73.3 406.33,73.8 406.24,74.3 406.15,74.8 406.06,75.3 405.97,75.8 405.87,76.3 405.78,76.8 405.68,77.3 405.58,77.8 405.48,78.3 405.39,78.8 405.29,79.3 405.20,79.8 405.12,80.3 405.03,80.8 404.95,81.3 404.87,81.8 404.79,82.3 404.71,82.8 404.64,83.3 404.57,83.8 404.51,84.3 404.05,84.8 403.95,84.8 403.49,84.3 403.43,83.8 403.36,83.3 403.29,82.8 403.21,82.3 403.13,81.8 403.05,81.3 402.97,80.8 402.88,80.3 402.80,79.8 402.71,79.3 402.61,78.8 402.52,78.3 402.42,77.8 402.32,77.3 402.22,76.8 402.13,76.3 402.03,75.8 401.94,75.3 401.85,74.8 401.76,74.3 401.67,73.8 401.56,73.3 401.46,72.8 401.37,72.3 401.30,71.8 401.26,71.3 401.25,70.8 401.28,70.3 401.32,69.8 401.38,69.3 401.44,68.8 401.51,68.3 401.59,67.8 401.69,67.3 401.80,66.8 401.93,66.3 402.06,65.8 402.20,65.3 402.34,64.8 402.48,64.3 402.63,63.8 402.81,63.3 403.00,62.8 403.20,62.3 403.37,61.8 403.50,61.3 403.95,60.8" fill="#2ba4d8" stroke="#000" stroke-opacity="0.65" stroke-width="0.55" stroke-linejoin="round"/>
<line x1="401.47" y1="68.6" x2="406.53" y2="68.6" stroke="#000" stroke-opacity="0.7" stroke-width="0.85"/>
<line x1="401.35" y1="72.2" x2="406.65" y2="72.2" stroke="#000" stroke-opacity="0.7" stroke-width="0.85"/>
<line x1="402.07" y1="76" x2="405.93" y2="76" stroke="#000" stroke-opacity="0.7" stroke-width="0.85"/>
<line x1="422.9" y1="52.1" x2="422.9" y2="89.9" stroke="#6e6e6e" stroke-width="0.75"/>
<polygon points="422.95,56.1 423.39,56.6 423.56,57.1 423.81,57.6 424.10,58.1 424.39,58.6 424.62,59.1 424.80,59.6 424.97,60.1 425.14,60.6 425.29,61.1 425.42,61.6 425.50,62.1 425.54,62.6 425.53,63.1 425.48,63.6 425.40,64.1 425.31,64.6 425.21,65.1 425.12,65.6 425.03,66.1 424.94,66.6 424.85,67.1 424.75,67.6 424.64,68.1 424.53,68.6 424.37,69.1 424.19,69.6 424.01,70.1 423.86,70.6 423.78,71.1 423.74,71.6 423.72,72.1 423.70,72.6 423.69,73.1 423.68,73.6 423.67,74.1 423.65,74.6 423.63,75.1 423.60,75.6 423.54,76.1 422.95,76.6 422.85,76.6 422.26,76.1 422.20,75.6 422.17,75.1 422.15,74.6 422.13,74.1 422.12,73.6 422.11,73.1 422.10,72.6 422.08,72.1 422.06,71.6 422.02,71.1 421.94,70.6 421.79,70.1 421.61,69.6 421.43,69.1 421.27,68.6 421.16,68.1 421.05,67.6 420.95,67.1 420.86,66.6 420.77,66.1 420.68,65.6 420.59,65.1 420.49,64.6 420.40,64.1 420.32,63.6 420.27,63.1 420.26,62.6 420.30,62.1 420.38,61.6 420.51,61.1 420.66,60.6 420.83,60.1 421.00,59.6 421.18,59.1 421.41,58.6 421.70,58.1 421.99,57.6 422.24,57.1 422.41,56.6 422.85,56.1" fill="#d2116f" stroke="#000" stroke-opacity="0.65" stroke-width="0.55" stroke-linejoin="round"/>
<polygon points="422.95,79.1 423.48,79.6 423.56,80.1 423.56,80.6 423.56,81.1 423.56,81.6 423.56,82.1 423.56,82.6 423.56,83.1 423.56,83.6 423.56,84.1 423.56,84.6 423.56,85.1 423.56,85.6 423.55,86.1 422.95,86.6 422.85,86.6 422.25,86.1 422.24,85.6 422.24,85.1 422.24,84.6 422.24,84.1 422.24,83.6 422.24,83.1 422.24,82.6 422.24,82.1 422.24,81.6 422.24,81.1 422.24,80.6 422.24,80.1 422.32,79.6 422.85,79.1" fill="#d2116f" stroke="#000" stroke-opacity="0.65" stroke-width="0.55" stroke-linejoin="round"/>
<line x1="420.86" y1="60" x2="424.94" y2="60" stroke="#000" stroke-opacity="0.7" stroke-width="0.85"/>
<line x1="420.26" y1="62.7" x2="425.54" y2="62.7" stroke="#000" stroke-opacity="0.7" stroke-width="0.85"/>
<line x1="420.70" y1="65.7" x2="425.10" y2="65.7" stroke="#000" stroke-opacity="0.7" stroke-width="0.85"/>
<line x1="433.9" y1="52.7" x2="433.9" y2="88.4" stroke="#6e6e6e" stroke-width="0.75"/>
<polygon points="433.95,56.2 434.37,56.7 434.49,57.2 434.61,57.7 434.77,58.2 434.96,58.7 435.15,59.2 435.35,59.7 435.54,60.2 435.69,60.7 435.82,61.2 435.93,61.7 436.05,62.2 436.16,62.7 436.26,63.2 436.35,63.7 436.43,64.2 436.49,64.7 436.53,65.2 436.54,65.7 436.50,66.2 436.40,66.7 436.25,67.2 436.09,67.7 435.92,68.2 435.68,68.7 435.40,69.2 435.16,69.7 435.00,70.2 434.92,70.7 434.87,71.2 434.83,71.7 434.81,72.2 434.78,72.7 434.74,73.2 434.69,73.7 434.62,74.2 434.46,74.7 433.95,75.2 433.85,75.2 433.34,74.7 433.18,74.2 433.11,73.7 433.06,73.2 433.02,72.7 432.99,72.2 432.97,71.7 432.93,71.2 432.88,70.7 432.80,70.2 432.64,69.7 432.40,69.2 432.12,68.7 431.88,68.2 431.71,67.7 431.55,67.2 431.40,66.7 431.30,66.2 431.26,65.7 431.27,65.2 431.31,64.7 431.37,64.2 431.45,63.7 431.54,63.2 431.64,62.7 431.75,62.2 431.87,61.7 431.98,61.2 432.11,60.7 432.26,60.2 432.45,59.7 432.65,59.2 432.84,58.7 433.03,58.2 433.19,57.7 433.31,57.2 433.43,56.7 433.85,56.2" fill="#d2116f" stroke="#000" stroke-opacity="0.65" stroke-width="0.55" stroke-linejoin="round"/>
<polygon points="433.95,77.2 434.40,77.7 434.56,78.2 434.56,78.7 434.56,79.2 434.56,79.7 434.56,80.2 434.56,80.7 434.56,81.2 434.56,81.7 434.56,82.2 434.56,82.7 434.56,83.2 434.56,83.7 434.56,84.2 434.56,84.7 434.51,85.2 433.95,85.7 433.85,85.7 433.29,85.2 433.24,84.7 433.24,84.2 433.24,83.7 433.24,83.2 433.24,82.7 433.24,82.2 433.24,81.7 433.24,81.2 433.24,80.7 433.24,80.2 433.24,79.7 433.24,79.2 433.24,78.7 433.24,78.2 433.40,77.7 433.85,77.2" fill="#d2116f" stroke="#000" stroke-opacity="0.65" stroke-width="0.55" stroke-linejoin="round"/>
<line x1="431.58" y1="63" x2="436.22" y2="63" stroke="#000" stroke-opacity="0.7" stroke-width="0.85"/>
<line x1="431.26" y1="65.7" x2="436.54" y2="65.7" stroke="#000" stroke-opacity="0.7" stroke-width="0.85"/>
<line x1="431.81" y1="68" x2="435.99" y2="68" stroke="#000" stroke-opacity="0.7" stroke-width="0.85"/>
<line x1="445.0" y1="55.0" x2="445.0" y2="94.3" stroke="#6e6e6e" stroke-width="0.75"/>
<polygon points="445.05,59.5 445.58,60.0 445.73,60.5 445.88,61.0 446.05,61.5 446.25,62.0 446.47,62.5 446.68,63.0 446.86,63.5 447.00,64.0 447.13,64.5 447.26,65.0 447.37,65.5 447.46,66.0 447.51,66.5 447.53,67.0 447.45,67.5 447.30,68.0 447.10,68.5 446.89,69.0 446.70,69.5 446.58,70.0 446.54,70.5 446.66,71.0 446.88,71.5 447.11,72.0 447.28,72.5 447.28,73.0 447.02,73.5 446.64,74.0 446.32,74.5 446.08,75.0 445.88,75.5 445.77,76.0 445.75,76.5 445.73,77.0 445.72,77.5 445.72,78.0 445.71,78.5 445.70,79.0 445.67,79.5 445.50,80.0 445.05,80.5 444.95,80.5 444.50,80.0 444.33,79.5 444.30,79.0 444.29,78.5 444.28,78.0 444.28,77.5 444.27,77.0 444.25,76.5 444.23,76.0 444.12,75.5 443.92,75.0 443.68,74.5 443.36,74.0 442.98,73.5 442.72,73.0 442.72,72.5 442.89,72.0 443.12,71.5 443.34,71.0 443.46,70.5 443.42,70.0 443.30,69.5 443.11,69.0 442.90,68.5 442.70,68.0 442.55,67.5 442.47,67.0 442.49,66.5 442.54,66.0 442.63,65.5 442.74,65.0 442.87,64.5 443.00,64.0 443.14,63.5 443.32,63.0 443.53,62.5 443.75,62.0 443.95,61.5 444.12,61.0 444.27,60.5 444.42,60.0 444.95,59.5" fill="#d2116f" stroke="#000" stroke-opacity="0.65" stroke-width="0.55" stroke-linejoin="round"/>
<polygon points="445.05,84.0 445.58,84.5 445.77,85.0 445.77,85.5 445.77,86.0 445.77,86.5 445.76,87.0 445.76,87.5 445.75,88.0 445.75,88.5 445.74,89.0 445.73,89.5 445.72,90.0 445.71,90.5 445.69,91.0 445.68,91.5 445.66,92.0 445.05,92.5 444.95,92.5 444.34,92.0 444.32,91.5 444.31,91.0 444.29,90.5 444.28,90.0 444.27,89.5 444.26,89.0 444.25,88.5 444.25,88.0 444.24,87.5 444.24,87.0 444.23,86.5 444.23,86.0 444.23,85.5 444.23,85.0 444.42,84.5 444.95,84.0" fill="#d2116f" stroke="#000" stroke-opacity="0.65" stroke-width="0.55" stroke-linejoin="round"/>
<line x1="442.87" y1="64.5" x2="447.13" y2="64.5" stroke="#000" stroke-opacity="0.7" stroke-width="0.85"/>
<line x1="442.47" y1="66.9" x2="447.53" y2="66.9" stroke="#000" stroke-opacity="0.7" stroke-width="0.85"/>
<line x1="442.69" y1="72.8" x2="447.31" y2="72.8" stroke="#000" stroke-opacity="0.7" stroke-width="0.85"/>
<line x1="455.6" y1="56.2" x2="455.6" y2="95.3" stroke="#6e6e6e" stroke-width="0.75"/>
<polygon points="455.65,60.2 456.12,60.7 456.26,61.2 456.40,61.7 456.53,62.2 456.66,62.7 456.80,63.2 456.93,63.7 457.07,64.2 457.20,64.7 457.33,65.2 457.45,65.7 457.56,66.2 457.66,66.7 457.77,67.2 457.88,67.7 457.98,68.2 458.08,68.7 458.15,69.2 458.21,69.7 458.24,70.2 458.22,70.7 458.13,71.2 457.97,71.7 457.78,72.2 457.59,72.7 457.42,73.2 457.30,73.7 457.25,74.2 457.28,74.7 457.37,75.2 457.48,75.7 457.59,76.2 457.67,76.7 457.69,77.2 457.56,77.7 457.31,78.2 457.05,78.7 456.84,79.2 456.64,79.7 456.44,80.2 456.30,80.7 456.24,81.2 456.21,81.7 456.18,82.2 456.16,82.7 456.15,83.2 456.15,83.7 456.26,84.2 456.41,84.7 456.51,85.2 456.58,85.7 456.64,86.2 456.68,86.7 456.70,87.2 456.67,87.7 456.60,88.2 456.50,88.7 456.39,89.2 456.29,89.7 456.21,90.2 456.13,90.7 455.65,91.2 455.55,91.2 455.07,90.7 454.99,90.2 454.91,89.7 454.81,89.2 454.70,88.7 454.60,88.2 454.53,87.7 454.50,87.2 454.52,86.7 454.56,86.2 454.62,85.7 454.69,85.2 454.79,84.7 454.94,84.2 455.05,83.7 455.05,83.2 455.04,82.7 455.02,82.2 454.99,81.7 454.96,81.2 454.90,80.7 454.76,80.2 454.56,79.7 454.36,79.2 454.15,78.7 453.89,78.2 453.64,77.7 453.51,77.2 453.53,76.7 453.61,76.2 453.72,75.7 453.83,75.2 453.92,74.7 453.95,74.2 453.90,73.7 453.78,73.2 453.61,72.7 453.42,72.2 453.23,71.7 453.07,71.2 452.98,70.7 452.96,70.2 452.99,69.7 453.05,69.2 453.12,68.7 453.22,68.2 453.32,67.7 453.43,67.2 453.54,66.7 453.64,66.2 453.75,65.7 453.87,65.2 454.00,64.7 454.13,64.2 454.27,63.7 454.40,63.2 454.54,62.7 454.67,62.2 454.80,61.7 454.94,61.2 455.08,60.7 455.55,60.2" fill="#d2116f" stroke="#000" stroke-opacity="0.65" stroke-width="0.55" stroke-linejoin="round"/>
<line x1="453.26" y1="68" x2="457.94" y2="68" stroke="#000" stroke-opacity="0.7" stroke-width="0.85"/>
<line x1="452.96" y1="70.4" x2="458.24" y2="70.4" stroke="#000" stroke-opacity="0.7" stroke-width="0.85"/>
<line x1="453.51" y1="77.1" x2="457.69" y2="77.1" stroke="#000" stroke-opacity="0.7" stroke-width="0.85"/>
<line x1="474.5" y1="51.5" x2="474.5" y2="77.5" stroke="#6e6e6e" stroke-width="0.75"/>
<polygon points="474.55,54.5 475.02,55.0 475.08,55.5 475.14,56.0 475.20,56.5 475.27,57.0 475.34,57.5 475.42,58.0 475.50,58.5 475.58,59.0 475.67,59.5 475.75,60.0 475.84,60.5 475.93,61.0 476.02,61.5 476.12,62.0 476.21,62.5 476.31,63.0 476.40,63.5 476.50,64.0 476.61,64.5 476.73,65.0 476.85,65.5 476.96,66.0 477.05,66.5 477.12,67.0 477.14,67.5 477.13,68.0 477.11,68.5 477.07,69.0 477.03,69.5 476.97,70.0 476.90,70.5 476.78,71.0 476.59,71.5 476.37,72.0 476.15,72.5 475.92,73.0 475.66,73.5 475.40,74.0 475.19,74.5 475.04,75.0 474.55,75.5 474.45,75.5 473.96,75.0 473.81,74.5 473.60,74.0 473.34,73.5 473.08,73.0 472.85,72.5 472.63,72.0 472.41,71.5 472.22,71.0 472.10,70.5 472.03,70.0 471.97,69.5 471.93,69.0 471.89,68.5 471.87,68.0 471.86,67.5 471.88,67.0 471.95,66.5 472.04,66.0 472.15,65.5 472.27,65.0 472.39,64.5 472.50,64.0 472.60,63.5 472.69,63.0 472.79,62.5 472.88,62.0 472.98,61.5 473.07,61.0 473.16,60.5 473.25,60.0 473.33,59.5 473.42,59.0 473.50,58.5 473.58,58.0 473.66,57.5 473.73,57.0 473.80,56.5 473.86,56.0 473.92,55.5 473.98,55.0 474.45,54.5" fill="#cad29e" stroke="#000" stroke-opacity="0.65" stroke-width="0.55" stroke-linejoin="round"/>
<line x1="472.52" y1="63.9" x2="476.48" y2="63.9" stroke="#000" stroke-opacity="0.7" stroke-width="0.85"/>
<line x1="471.86" y1="67.5" x2="477.14" y2="67.5" stroke="#000" stroke-opacity="0.7" stroke-width="0.85"/>
<line x1="472.08" y1="70.4" x2="476.92" y2="70.4" stroke="#000" stroke-opacity="0.7" stroke-width="0.85"/>
<line x1="485.1" y1="52.7" x2="485.1" y2="79.9" stroke="#6e6e6e" stroke-width="0.75"/>
<polygon points="485.15,55.7 485.60,56.2 485.64,56.7 485.69,57.2 485.73,57.7 485.78,58.2 485.83,58.7 485.89,59.2 485.95,59.7 486.01,60.2 486.08,60.7 486.15,61.2 486.24,61.7 486.34,62.2 486.46,62.7 486.59,63.2 486.73,63.7 486.86,64.2 486.99,64.7 487.10,65.2 487.22,65.7 487.34,66.2 487.47,66.7 487.59,67.2 487.69,67.7 487.77,68.2 487.83,68.7 487.85,69.2 487.82,69.7 487.74,70.2 487.63,70.7 487.51,71.2 487.38,71.7 487.22,72.2 487.03,72.7 486.85,73.2 486.69,73.7 486.56,74.2 486.44,74.7 486.33,75.2 486.20,75.7 486.06,76.2 485.91,76.7 485.76,77.2 485.62,77.7 485.15,78.2 485.05,78.2 484.58,77.7 484.44,77.2 484.29,76.7 484.14,76.2 484.00,75.7 483.87,75.2 483.76,74.7 483.64,74.2 483.51,73.7 483.35,73.2 483.17,72.7 482.98,72.2 482.82,71.7 482.69,71.2 482.57,70.7 482.46,70.2 482.38,69.7 482.35,69.2 482.37,68.7 482.43,68.2 482.51,67.7 482.61,67.2 482.73,66.7 482.86,66.2 482.98,65.7 483.10,65.2 483.21,64.7 483.34,64.2 483.47,63.7 483.61,63.2 483.74,62.7 483.86,62.2 483.96,61.7 484.05,61.2 484.12,60.7 484.19,60.2 484.25,59.7 484.31,59.2 484.37,58.7 484.42,58.2 484.47,57.7 484.51,57.2 484.56,56.7 484.60,56.2 485.05,55.7" fill="#cad29e" stroke="#000" stroke-opacity="0.65" stroke-width="0.55" stroke-linejoin="round"/>
<line x1="482.83" y1="66.3" x2="487.37" y2="66.3" stroke="#000" stroke-opacity="0.7" stroke-width="0.85"/>
<line x1="482.38" y1="68.6" x2="487.82" y2="68.6" stroke="#000" stroke-opacity="0.7" stroke-width="0.85"/>
<line x1="482.79" y1="71.6" x2="487.41" y2="71.6" stroke="#000" stroke-opacity="0.7" stroke-width="0.85"/>
<line x1="496.5" y1="56.2" x2="496.5" y2="83.4" stroke="#6e6e6e" stroke-width="0.75"/>
<polygon points="496.55,59.7 497.01,60.2 497.05,60.7 497.10,61.2 497.14,61.7 497.17,62.2 497.21,62.7 497.24,63.2 497.26,63.7 497.29,64.2 497.32,64.7 497.35,65.2 497.38,65.7 497.42,66.2 497.45,66.7 497.49,67.2 497.52,67.7 497.56,68.2 497.61,68.7 497.66,69.2 497.72,69.7 497.79,70.2 497.88,70.7 498.03,71.2 498.23,71.7 498.43,72.2 498.61,72.7 498.75,73.2 498.89,73.7 499.02,74.2 499.11,74.7 499.14,75.2 499.10,75.7 499.02,76.2 498.91,76.7 498.78,77.2 498.63,77.7 498.39,78.2 498.07,78.7 497.75,79.2 497.47,79.7 497.27,80.2 497.10,80.7 496.55,81.2 496.45,81.2 495.90,80.7 495.73,80.2 495.53,79.7 495.25,79.2 494.93,78.7 494.61,78.2 494.37,77.7 494.22,77.2 494.09,76.7 493.98,76.2 493.90,75.7 493.86,75.2 493.89,74.7 493.98,74.2 494.11,73.7 494.25,73.2 494.39,72.7 494.57,72.2 494.77,71.7 494.97,71.2 495.12,70.7 495.21,70.2 495.28,69.7 495.34,69.2 495.39,68.7 495.44,68.2 495.48,67.7 495.51,67.2 495.55,66.7 495.58,66.2 495.62,65.7 495.65,65.2 495.68,64.7 495.71,64.2 495.74,63.7 495.76,63.2 495.79,62.7 495.83,62.2 495.86,61.7 495.90,61.2 495.95,60.7 495.99,60.2 496.45,59.7" fill="#cad29e" stroke="#000" stroke-opacity="0.65" stroke-width="0.55" stroke-linejoin="round"/>
<line x1="494.03" y1="74" x2="498.97" y2="74" stroke="#000" stroke-opacity="0.7" stroke-width="0.85"/>
<line x1="494.14" y1="76.9" x2="498.86" y2="76.9" stroke="#000" stroke-opacity="0.7" stroke-width="0.85"/>
<line x1="507.1" y1="59.2" x2="507.1" y2="85.2" stroke="#6e6e6e" stroke-width="0.75"/>
<polygon points="507.15,62.2 507.61,62.7 507.71,63.2 507.81,63.7 507.92,64.2 508.03,64.7 508.13,65.2 508.24,65.7 508.35,66.2 508.46,66.7 508.57,67.2 508.67,67.7 508.78,68.2 508.88,68.7 508.98,69.2 509.08,69.7 509.17,70.2 509.26,70.7 509.35,71.2 509.43,71.7 509.51,72.2 509.59,72.7 509.67,73.2 509.75,73.7 509.80,74.2 509.84,74.7 509.85,75.2 509.84,75.7 509.82,76.2 509.78,76.7 509.73,77.2 509.67,77.7 509.60,78.2 509.52,78.7 509.33,79.2 509.02,79.7 508.69,80.2 508.44,80.7 508.24,81.2 508.05,81.7 507.88,82.2 507.72,82.7 507.57,83.2 507.15,83.7 507.05,83.7 506.63,83.2 506.48,82.7 506.32,82.2 506.15,81.7 505.96,81.2 505.76,80.7 505.51,80.2 505.18,79.7 504.87,79.2 504.68,78.7 504.60,78.2 504.53,77.7 504.47,77.2 504.42,76.7 504.38,76.2 504.36,75.7 504.35,75.2 504.36,74.7 504.40,74.2 504.45,73.7 504.53,73.2 504.61,72.7 504.69,72.2 504.77,71.7 504.85,71.2 504.94,70.7 505.03,70.2 505.12,69.7 505.22,69.2 505.32,68.7 505.42,68.2 505.53,67.7 505.63,67.2 505.74,66.7 505.85,66.2 505.96,65.7 506.07,65.2 506.17,64.7 506.28,64.2 506.39,63.7 506.49,63.2 506.59,62.7 507.05,62.2" fill="#cad29e" stroke="#000" stroke-opacity="0.65" stroke-width="0.55" stroke-linejoin="round"/>
<line x1="504.79" y1="71.6" x2="509.41" y2="71.6" stroke="#000" stroke-opacity="0.7" stroke-width="0.85"/>
<line x1="504.35" y1="75.1" x2="509.85" y2="75.1" stroke="#000" stroke-opacity="0.7" stroke-width="0.85"/>
<line x1="504.68" y1="78.7" x2="509.52" y2="78.7" stroke="#000" stroke-opacity="0.7" stroke-width="0.85"/>
<line x1="47.1" y1="234.2" x2="47.1" y2="257.5" stroke="#6e6e6e" stroke-width="0.75"/>
<polygon points="47.15,239.7 47.78,240.2 48.06,240.7 48.27,241.2 48.46,241.7 48.64,242.2 48.81,242.7 48.96,243.2 49.08,243.7 49.16,244.2 49.19,244.7 49.16,245.2 49.10,245.7 49.00,246.2 48.88,246.7 48.77,247.2 48.66,247.7 48.58,248.2 48.53,248.7 48.57,249.2 48.76,249.7 49.04,250.2 49.35,250.7 49.61,251.2 49.74,251.7 49.70,252.2 49.57,252.7 49.37,253.2 49.14,253.7 48.89,254.2 48.65,254.7 48.38,255.2 48.08,255.7 47.77,256.2 47.15,256.7 47.05,256.7 46.43,256.2 46.12,255.7 45.82,255.2 45.55,254.7 45.31,254.2 45.06,253.7 44.83,253.2 44.63,252.7 44.50,252.2 44.46,251.7 44.59,251.2 44.85,250.7 45.16,250.2 45.44,249.7 45.63,249.2 45.67,248.7 45.62,248.2 45.54,247.7 45.43,247.2 45.32,246.7 45.20,246.2 45.10,245.7 45.04,245.2 45.01,244.7 45.04,244.2 45.12,243.7 45.24,243.2 45.39,242.7 45.56,242.2 45.74,241.7 45.93,241.2 46.14,240.7 46.42,240.2 47.05,239.7" fill="#de8e1e" stroke="#000" stroke-opacity="0.65" stroke-width="0.55" stroke-linejoin="round"/>
<line x1="45.01" y1="244.7" x2="49.19" y2="244.7" stroke="#000" stroke-opacity="0.7" stroke-width="0.85"/>
<line x1="45.67" y1="248.9" x2="48.53" y2="248.9" stroke="#000" stroke-opacity="0.7" stroke-width="0.85"/>
<line x1="44.46" y1="251.8" x2="49.74" y2="251.8" stroke="#000" stroke-opacity="0.7" stroke-width="0.85"/>
<line x1="58.1" y1="237.4" x2="58.1" y2="258.4" stroke="#6e6e6e" stroke-width="0.75"/>
<polygon points="58.15,242.4 58.62,242.9 58.90,243.4 59.34,243.9 59.75,244.4 60.19,244.9 60.53,245.4 60.63,245.9 60.52,246.4 60.31,246.9 60.05,247.4 59.80,247.9 59.61,248.4 59.53,248.9 59.63,249.4 59.86,249.9 60.17,250.4 60.46,250.9 60.68,251.4 60.74,251.9 60.65,252.4 60.46,252.9 60.21,253.4 59.94,253.9 59.69,254.4 59.45,254.9 59.18,255.4 58.91,255.9 58.69,256.4 58.15,256.9 58.05,256.9 57.51,256.4 57.29,255.9 57.02,255.4 56.75,254.9 56.51,254.4 56.26,253.9 55.99,253.4 55.74,252.9 55.55,252.4 55.46,251.9 55.52,251.4 55.74,250.9 56.03,250.4 56.34,249.9 56.57,249.4 56.67,248.9 56.59,248.4 56.40,247.9 56.15,247.4 55.89,246.9 55.68,246.4 55.57,245.9 55.67,245.4 56.01,244.9 56.45,244.4 56.86,243.9 57.30,243.4 57.58,242.9 58.05,242.4" fill="#de8e1e" stroke="#000" stroke-opacity="0.65" stroke-width="0.55" stroke-linejoin="round"/>
<line x1="55.57" y1="245.8" x2="60.63" y2="245.8" stroke="#000" stroke-opacity="0.7" stroke-width="0.85"/>
<line x1="56.67" y1="248.9" x2="59.53" y2="248.9" stroke="#000" stroke-opacity="0.7" stroke-width="0.85"/>
<line x1="55.46" y1="251.8" x2="60.74" y2="251.8" stroke="#000" stroke-opacity="0.7" stroke-width="0.85"/>
<line x1="69.4" y1="242.0" x2="69.4" y2="264.0" stroke="#6e6e6e" stroke-width="0.75"/>
<polygon points="69.45,249.0 70.04,249.5 70.39,250.0 70.72,250.5 71.04,251.0 71.38,251.5 71.67,252.0 71.82,252.5 71.71,253.0 71.33,253.5 70.87,254.0 70.50,254.5 70.22,255.0 70.00,255.5 69.91,256.0 69.45,256.5 69.35,256.5 68.89,256.0 68.80,255.5 68.58,255.0 68.30,254.5 67.93,254.0 67.47,253.5 67.09,253.0 66.98,252.5 67.13,252.0 67.42,251.5 67.76,251.0 68.08,250.5 68.41,250.0 68.76,249.5 69.35,249.0" fill="#de8e1e" stroke="#000" stroke-opacity="0.65" stroke-width="0.55" stroke-linejoin="round"/>
<polygon points="69.45,257.0 70.03,257.5 70.37,258.0 70.49,258.5 70.22,259.0 69.87,259.5 69.45,260.0 69.35,260.0 68.93,259.5 68.58,259.0 68.31,258.5 68.43,258.0 68.77,257.5 69.35,257.0" fill="#de8e1e" stroke="#000" stroke-opacity="0.65" stroke-width="0.55" stroke-linejoin="round"/>
<polygon points="69.45,260.5 69.87,261.0 69.94,261.5 70.09,262.0 70.27,262.5 70.20,263.0 69.90,263.5 69.45,264.0 69.35,264.0 68.90,263.5 68.60,263.0 68.53,262.5 68.71,262.0 68.86,261.5 68.93,261.0 69.35,260.5" fill="#de8e1e" stroke="#000" stroke-opacity="0.65" stroke-width="0.55" stroke-linejoin="round"/>
<line x1="66.98" y1="252.6" x2="71.82" y2="252.6" stroke="#000" stroke-opacity="0.7" stroke-width="0.85"/>
<line x1="80.4" y1="248.4" x2="80.4" y2="267.8" stroke="#6e6e6e" stroke-width="0.75"/>
<polygon points="80.45,255.4 81.06,255.9 81.63,256.4 82.03,256.9 82.44,257.4 82.79,257.9 83.05,258.4 83.15,258.9 83.06,259.4 82.86,259.9 82.61,260.4 82.41,260.9 82.29,261.4 82.19,261.9 82.09,262.4 81.98,262.9 81.85,263.4 81.71,263.9 81.57,264.4 81.42,264.9 81.26,265.4 81.10,265.9 80.93,266.4 80.45,266.9 80.35,266.9 79.87,266.4 79.70,265.9 79.54,265.4 79.38,264.9 79.23,264.4 79.09,263.9 78.95,263.4 78.82,262.9 78.71,262.4 78.61,261.9 78.51,261.4 78.39,260.9 78.19,260.4 77.94,259.9 77.74,259.4 77.65,258.9 77.75,258.4 78.01,257.9 78.36,257.4 78.77,256.9 79.17,256.4 79.74,255.9 80.35,255.4" fill="#de8e1e" stroke="#000" stroke-opacity="0.65" stroke-width="0.55" stroke-linejoin="round"/>
<line x1="78.29" y1="257.5" x2="82.51" y2="257.5" stroke="#000" stroke-opacity="0.7" stroke-width="0.85"/>
<line x1="77.65" y1="258.9" x2="83.15" y2="258.9" stroke="#000" stroke-opacity="0.7" stroke-width="0.85"/>
<line x1="78.67" y1="262.2" x2="82.13" y2="262.2" stroke="#000" stroke-opacity="0.7" stroke-width="0.85"/>
<line x1="98.9" y1="234.7" x2="98.9" y2="257.8" stroke="#6e6e6e" stroke-width="0.75"/>
<polygon points="98.95,238.7 99.37,239.2 99.48,239.7 99.64,240.2 99.97,240.7 100.36,241.2 100.65,241.7 100.92,242.2 101.17,242.7 101.37,243.2 101.47,243.7 101.47,244.2 101.40,244.7 101.28,245.2 101.16,245.7 101.06,246.2 100.97,246.7 100.87,247.2 100.78,247.7 100.68,248.2 100.59,248.7 100.50,249.2 100.41,249.7 100.32,250.2 100.23,250.7 100.14,251.2 100.05,251.7 99.96,252.2 99.87,252.7 99.77,253.2 99.67,253.7 99.57,254.2 99.47,254.7 99.38,255.2 98.95,255.7 98.85,255.7 98.42,255.2 98.33,254.7 98.23,254.2 98.13,253.7 98.03,253.2 97.93,252.7 97.84,252.2 97.75,251.7 97.66,251.2 97.57,250.7 97.48,250.2 97.39,249.7 97.30,249.2 97.21,248.7 97.12,248.2 97.02,247.7 96.93,247.2 96.83,246.7 96.74,246.2 96.64,245.7 96.52,245.2 96.40,244.7 96.33,244.2 96.33,243.7 96.43,243.2 96.63,242.7 96.88,242.2 97.15,241.7 97.44,241.2 97.83,240.7 98.16,240.2 98.32,239.7 98.43,239.2 98.85,238.7" fill="#2ba4d8" stroke="#000" stroke-opacity="0.65" stroke-width="0.55" stroke-linejoin="round"/>
<line x1="96.36" y1="243.5" x2="101.44" y2="243.5" stroke="#000" stroke-opacity="0.7" stroke-width="0.85"/>
<line x1="96.47" y1="245" x2="101.33" y2="245" stroke="#000" stroke-opacity="0.7" stroke-width="0.85"/>
<line x1="97.18" y1="248.5" x2="100.62" y2="248.5" stroke="#000" stroke-opacity="0.7" stroke-width="0.85"/>
<line x1="109.9" y1="235.3" x2="109.9" y2="259.0" stroke="#6e6e6e" stroke-width="0.75"/>
<polygon points="109.95,239.3 110.36,239.8 110.50,240.3 110.70,240.8 111.06,241.3 111.44,241.8 111.70,242.3 111.95,242.8 112.18,243.3 112.35,243.8 112.43,244.3 112.42,244.8 112.38,245.3 112.32,245.8 112.24,246.3 112.15,246.8 112.06,247.3 111.97,247.8 111.86,248.3 111.73,248.8 111.59,249.3 111.45,249.8 111.33,250.3 111.25,250.8 111.22,251.3 111.27,251.8 111.40,252.3 111.57,252.8 111.73,253.3 111.85,253.8 111.88,254.3 111.78,254.8 111.58,255.3 111.33,255.8 111.09,256.3 110.88,256.8 110.66,257.3 110.45,257.8 109.95,258.3 109.85,258.3 109.35,257.8 109.14,257.3 108.92,256.8 108.71,256.3 108.47,255.8 108.22,255.3 108.02,254.8 107.92,254.3 107.95,253.8 108.07,253.3 108.23,252.8 108.40,252.3 108.53,251.8 108.58,251.3 108.55,250.8 108.47,250.3 108.35,249.8 108.21,249.3 108.07,248.8 107.94,248.3 107.83,247.8 107.74,247.3 107.65,246.8 107.56,246.3 107.48,245.8 107.42,245.3 107.38,244.8 107.37,244.3 107.45,243.8 107.62,243.3 107.85,242.8 108.10,242.3 108.36,241.8 108.74,241.3 109.10,240.8 109.30,240.3 109.44,239.8 109.85,239.3" fill="#2ba4d8" stroke="#000" stroke-opacity="0.65" stroke-width="0.55" stroke-linejoin="round"/>
<line x1="107.37" y1="244.4" x2="112.43" y2="244.4" stroke="#000" stroke-opacity="0.7" stroke-width="0.85"/>
<line x1="107.81" y1="247.7" x2="111.99" y2="247.7" stroke="#000" stroke-opacity="0.7" stroke-width="0.85"/>
<line x1="108.58" y1="251.3" x2="111.22" y2="251.3" stroke="#000" stroke-opacity="0.7" stroke-width="0.85"/>
<line x1="120.9" y1="239.5" x2="120.9" y2="262.5" stroke="#6e6e6e" stroke-width="0.75"/>
<polygon points="120.95,244.0 121.43,244.5 121.56,245.0 121.80,245.5 122.15,246.0 122.44,246.5 122.66,247.0 122.89,247.5 123.10,248.0 123.27,248.5 123.39,249.0 123.43,249.5 123.42,250.0 123.38,250.5 123.33,251.0 123.27,251.5 123.21,252.0 123.11,252.5 122.97,253.0 122.82,253.5 122.71,254.0 122.66,254.5 122.69,255.0 122.76,255.5 122.85,256.0 122.93,256.5 122.98,257.0 122.97,257.5 122.86,258.0 122.67,258.5 122.45,259.0 122.22,259.5 122.00,260.0 121.80,260.5 121.59,261.0 121.37,261.5 120.95,262.0 120.85,262.0 120.43,261.5 120.21,261.0 120.00,260.5 119.80,260.0 119.58,259.5 119.35,259.0 119.13,258.5 118.94,258.0 118.83,257.5 118.82,257.0 118.87,256.5 118.95,256.0 119.04,255.5 119.11,255.0 119.14,254.5 119.09,254.0 118.98,253.5 118.83,253.0 118.69,252.5 118.59,252.0 118.53,251.5 118.47,251.0 118.42,250.5 118.38,250.0 118.37,249.5 118.41,249.0 118.53,248.5 118.70,248.0 118.91,247.5 119.14,247.0 119.36,246.5 119.65,246.0 120.00,245.5 120.24,245.0 120.37,244.5 120.85,244.0" fill="#2ba4d8" stroke="#000" stroke-opacity="0.65" stroke-width="0.55" stroke-linejoin="round"/>
<line x1="118.37" y1="249.5" x2="123.43" y2="249.5" stroke="#000" stroke-opacity="0.7" stroke-width="0.85"/>
<line x1="118.58" y1="251.9" x2="123.22" y2="251.9" stroke="#000" stroke-opacity="0.7" stroke-width="0.85"/>
<line x1="118.81" y1="257.2" x2="122.99" y2="257.2" stroke="#000" stroke-opacity="0.7" stroke-width="0.85"/>
<line x1="132.0" y1="241.8" x2="132.0" y2="271.4" stroke="#6e6e6e" stroke-width="0.75"/>
<polygon points="132.05,246.3 132.52,246.8 132.66,247.3 132.82,247.8 132.99,248.3 133.24,248.8 133.54,249.3 133.82,249.8 134.06,250.3 134.19,250.8 134.19,251.3 134.16,251.8 134.11,252.3 134.05,252.8 133.98,253.3 133.93,253.8 133.89,254.3 133.87,254.8 133.90,255.3 134.00,255.8 134.13,256.3 134.28,256.8 134.43,257.3 134.58,257.8 134.68,258.3 134.74,258.8 134.74,259.3 134.69,259.8 134.60,260.3 134.49,260.8 134.37,261.3 134.25,261.8 134.13,262.3 133.99,262.8 133.83,263.3 133.67,263.8 133.52,264.3 133.37,264.8 133.25,265.3 133.12,265.8 133.01,266.3 132.90,266.8 132.79,267.3 132.68,267.8 132.58,268.3 132.48,268.8 132.05,269.3 131.95,269.3 131.52,268.8 131.42,268.3 131.32,267.8 131.21,267.3 131.10,266.8 130.99,266.3 130.88,265.8 130.75,265.3 130.63,264.8 130.48,264.3 130.33,263.8 130.17,263.3 130.01,262.8 129.87,262.3 129.75,261.8 129.63,261.3 129.51,260.8 129.40,260.3 129.31,259.8 129.26,259.3 129.26,258.8 129.32,258.3 129.42,257.8 129.57,257.3 129.72,256.8 129.87,256.3 130.00,255.8 130.10,255.3 130.13,254.8 130.11,254.3 130.07,253.8 130.02,253.3 129.95,252.8 129.89,252.3 129.84,251.8 129.81,251.3 129.81,250.8 129.94,250.3 130.18,249.8 130.46,249.3 130.76,248.8 131.01,248.3 131.18,247.8 131.34,247.3 131.48,246.8 131.95,246.3" fill="#2ba4d8" stroke="#000" stroke-opacity="0.65" stroke-width="0.55" stroke-linejoin="round"/>
<line x1="129.80" y1="251" x2="134.20" y2="251" stroke="#000" stroke-opacity="0.7" stroke-width="0.85"/>
<line x1="129.25" y1="259" x2="134.75" y2="259" stroke="#000" stroke-opacity="0.7" stroke-width="0.85"/>
<line x1="129.80" y1="262" x2="134.20" y2="262" stroke="#000" stroke-opacity="0.7" stroke-width="0.85"/>
<line x1="150.6" y1="234.7" x2="150.6" y2="259.0" stroke="#6e6e6e" stroke-width="0.75"/>
<polygon points="150.65,237.7 151.13,238.2 151.37,238.7 151.78,239.2 152.19,239.7 152.49,240.2 152.78,240.7 153.01,241.2 153.13,241.7 153.11,242.2 153.06,242.7 152.97,243.2 152.87,243.7 152.76,244.2 152.64,244.7 152.48,245.2 152.28,245.7 152.07,246.2 151.88,246.7 151.75,247.2 151.70,247.7 151.72,248.2 151.78,248.7 151.87,249.2 151.96,249.7 152.04,250.2 152.11,250.7 152.14,251.2 152.12,251.7 152.04,252.2 151.92,252.7 151.79,253.2 151.66,253.7 151.55,254.2 151.44,254.7 151.33,255.2 151.23,255.7 151.12,256.2 150.65,256.7 150.55,256.7 150.08,256.2 149.97,255.7 149.87,255.2 149.76,254.7 149.65,254.2 149.54,253.7 149.41,253.2 149.28,252.7 149.16,252.2 149.08,251.7 149.06,251.2 149.09,250.7 149.16,250.2 149.24,249.7 149.33,249.2 149.42,248.7 149.48,248.2 149.50,247.7 149.45,247.2 149.32,246.7 149.13,246.2 148.92,245.7 148.72,245.2 148.56,244.7 148.44,244.2 148.33,243.7 148.23,243.2 148.14,242.7 148.09,242.2 148.07,241.7 148.19,241.2 148.42,240.7 148.71,240.2 149.01,239.7 149.42,239.2 149.83,238.7 150.07,238.2 150.55,237.7" fill="#d2116f" stroke="#000" stroke-opacity="0.65" stroke-width="0.55" stroke-linejoin="round"/>
<line x1="148.07" y1="241.8" x2="153.13" y2="241.8" stroke="#000" stroke-opacity="0.7" stroke-width="0.85"/>
<line x1="148.51" y1="244.5" x2="152.69" y2="244.5" stroke="#000" stroke-opacity="0.7" stroke-width="0.85"/>
<line x1="149.49" y1="247.5" x2="151.71" y2="247.5" stroke="#000" stroke-opacity="0.7" stroke-width="0.85"/>
<line x1="161.5" y1="234.7" x2="161.5" y2="258.4" stroke="#6e6e6e" stroke-width="0.75"/>
<polygon points="161.55,238.2 162.06,238.7 162.24,239.2 162.51,239.7 162.83,240.2 163.12,240.7 163.34,241.2 163.54,241.7 163.74,242.2 163.91,242.7 164.05,243.2 164.13,243.7 164.13,244.2 164.07,244.7 163.96,245.2 163.81,245.7 163.64,246.2 163.47,246.7 163.30,247.2 163.08,247.7 162.83,248.2 162.57,248.7 162.35,249.2 162.20,249.7 162.16,250.2 162.24,250.7 162.39,251.2 162.58,251.7 162.75,252.2 162.86,252.7 162.97,253.2 163.06,253.7 163.13,254.2 163.15,254.7 163.02,255.2 162.79,255.7 162.52,256.2 162.29,256.7 162.07,257.2 161.55,257.7 161.45,257.7 160.93,257.2 160.71,256.7 160.48,256.2 160.21,255.7 159.98,255.2 159.85,254.7 159.87,254.2 159.94,253.7 160.03,253.2 160.14,252.7 160.25,252.2 160.42,251.7 160.61,251.2 160.76,250.7 160.84,250.2 160.80,249.7 160.65,249.2 160.43,248.7 160.17,248.2 159.92,247.7 159.70,247.2 159.53,246.7 159.36,246.2 159.19,245.7 159.04,245.2 158.93,244.7 158.87,244.2 158.87,243.7 158.95,243.2 159.09,242.7 159.26,242.2 159.46,241.7 159.66,241.2 159.88,240.7 160.17,240.2 160.49,239.7 160.76,239.2 160.94,238.7 161.45,238.2" fill="#d2116f" stroke="#000" stroke-opacity="0.65" stroke-width="0.55" stroke-linejoin="round"/>
<line x1="158.86" y1="244" x2="164.14" y2="244" stroke="#000" stroke-opacity="0.7" stroke-width="0.85"/>
<line x1="159.63" y1="247" x2="163.37" y2="247" stroke="#000" stroke-opacity="0.7" stroke-width="0.85"/>
<line x1="160.84" y1="250" x2="162.16" y2="250" stroke="#000" stroke-opacity="0.7" stroke-width="0.85"/>
<line x1="172.2" y1="238.9" x2="172.2" y2="268.4" stroke="#6e6e6e" stroke-width="0.75"/>
<polygon points="172.25,241.9 172.67,242.4 172.83,242.9 173.03,243.4 173.31,243.9 173.60,244.4 173.82,244.9 173.96,245.4 174.09,245.9 174.21,246.4 174.32,246.9 174.42,247.4 174.50,247.9 174.56,248.4 174.60,248.9 174.62,249.4 174.60,249.9 174.52,250.4 174.41,250.9 174.30,251.4 174.20,251.9 174.12,252.4 174.06,252.9 173.99,253.4 173.93,253.9 173.87,254.4 173.81,254.9 173.74,255.4 173.66,255.9 173.57,256.4 173.47,256.9 173.38,257.4 173.31,257.9 173.26,258.4 173.21,258.9 173.16,259.4 173.12,259.9 173.09,260.4 173.05,260.9 173.01,261.4 172.98,261.9 172.94,262.4 172.91,262.9 172.88,263.4 172.84,263.9 172.80,264.4 172.76,264.9 172.71,265.4 172.25,265.9 172.15,265.9 171.69,265.4 171.64,264.9 171.60,264.4 171.56,263.9 171.52,263.4 171.49,262.9 171.46,262.4 171.42,261.9 171.39,261.4 171.35,260.9 171.31,260.4 171.28,259.9 171.24,259.4 171.19,258.9 171.14,258.4 171.09,257.9 171.02,257.4 170.93,256.9 170.83,256.4 170.74,255.9 170.66,255.4 170.59,254.9 170.53,254.4 170.47,253.9 170.41,253.4 170.34,252.9 170.28,252.4 170.20,251.9 170.10,251.4 169.99,250.9 169.88,250.4 169.80,249.9 169.78,249.4 169.80,248.9 169.84,248.4 169.90,247.9 169.98,247.4 170.08,246.9 170.19,246.4 170.31,245.9 170.44,245.4 170.58,244.9 170.80,244.4 171.09,243.9 171.37,243.4 171.57,242.9 171.73,242.4 172.15,241.9" fill="#d2116f" stroke="#000" stroke-opacity="0.65" stroke-width="0.55" stroke-linejoin="round"/>
<line x1="170.04" y1="247.1" x2="174.36" y2="247.1" stroke="#000" stroke-opacity="0.7" stroke-width="0.85"/>
<line x1="169.78" y1="249.5" x2="174.62" y2="249.5" stroke="#000" stroke-opacity="0.7" stroke-width="0.85"/>
<line x1="170.66" y1="255.4" x2="173.74" y2="255.4" stroke="#000" stroke-opacity="0.7" stroke-width="0.85"/>
<line x1="183.7" y1="241.2" x2="183.7" y2="274.3" stroke="#6e6e6e" stroke-width="0.75"/>
<polygon points="183.75,244.7 184.17,245.2 184.29,245.7 184.41,246.2 184.54,246.7 184.69,247.2 184.84,247.7 184.98,248.2 185.09,248.7 185.18,249.2 185.25,249.7 185.31,250.2 185.36,250.7 185.41,251.2 185.46,251.7 185.50,252.2 185.55,252.7 185.60,253.2 185.65,253.7 185.70,254.2 185.77,254.7 185.84,255.2 185.91,255.7 185.99,256.2 186.07,256.7 186.15,257.2 186.22,257.7 186.29,258.2 186.35,258.7 186.39,259.2 186.43,259.7 186.45,260.2 186.45,260.7 186.41,261.2 186.35,261.7 186.27,262.2 186.17,262.7 186.07,263.2 185.96,263.7 185.86,264.2 185.75,264.7 185.63,265.2 185.49,265.7 185.35,266.2 185.21,266.7 185.06,267.2 184.92,267.7 184.78,268.2 184.65,268.7 184.53,269.2 184.41,269.7 184.30,270.2 184.19,270.7 183.75,271.2 183.65,271.2 183.21,270.7 183.10,270.2 182.99,269.7 182.87,269.2 182.75,268.7 182.62,268.2 182.48,267.7 182.34,267.2 182.19,266.7 182.05,266.2 181.91,265.7 181.77,265.2 181.65,264.7 181.54,264.2 181.44,263.7 181.33,263.2 181.23,262.7 181.13,262.2 181.05,261.7 180.99,261.2 180.95,260.7 180.95,260.2 180.97,259.7 181.01,259.2 181.05,258.7 181.11,258.2 181.18,257.7 181.25,257.2 181.33,256.7 181.41,256.2 181.49,255.7 181.56,255.2 181.63,254.7 181.70,254.2 181.75,253.7 181.80,253.2 181.85,252.7 181.90,252.2 181.94,251.7 181.99,251.2 182.04,250.7 182.09,250.2 182.15,249.7 182.22,249.2 182.31,248.7 182.42,248.2 182.56,247.7 182.71,247.2 182.86,246.7 182.99,246.2 183.11,245.7 183.23,245.2 183.65,244.7" fill="#d2116f" stroke="#000" stroke-opacity="0.65" stroke-width="0.55" stroke-linejoin="round"/>
<line x1="181.72" y1="254" x2="185.68" y2="254" stroke="#000" stroke-opacity="0.7" stroke-width="0.85"/>
<line x1="180.95" y1="260.5" x2="186.45" y2="260.5" stroke="#000" stroke-opacity="0.7" stroke-width="0.85"/>
<line x1="181.50" y1="264" x2="185.90" y2="264" stroke="#000" stroke-opacity="0.7" stroke-width="0.85"/>
<line x1="202.4" y1="232.7" x2="202.4" y2="253.4" stroke="#6e6e6e" stroke-width="0.75"/>
<polygon points="202.45,238.7 202.89,239.2 202.93,239.7 202.96,240.2 202.98,240.7 203.00,241.2 203.02,241.7 203.06,242.2 203.17,242.7 203.38,243.2 203.60,243.7 203.79,244.2 203.99,244.7 204.20,245.2 204.40,245.7 204.58,246.2 204.72,246.7 204.81,247.2 204.82,247.7 204.77,248.2 204.70,248.7 204.59,249.2 204.46,249.7 204.31,250.2 204.06,250.7 203.73,251.2 203.38,251.7 203.06,252.2 202.45,252.7 202.35,252.7 201.74,252.2 201.42,251.7 201.07,251.2 200.74,250.7 200.49,250.2 200.34,249.7 200.21,249.2 200.10,248.7 200.03,248.2 199.98,247.7 199.99,247.2 200.08,246.7 200.22,246.2 200.40,245.7 200.60,245.2 200.81,244.7 201.01,244.2 201.20,243.7 201.42,243.2 201.63,242.7 201.74,242.2 201.78,241.7 201.80,241.2 201.82,240.7 201.84,240.2 201.87,239.7 201.91,239.2 202.35,238.7" fill="#cad29e" stroke="#000" stroke-opacity="0.65" stroke-width="0.55" stroke-linejoin="round"/>
<line x1="200.69" y1="245" x2="204.11" y2="245" stroke="#000" stroke-opacity="0.7" stroke-width="0.85"/>
<line x1="199.98" y1="247.5" x2="204.82" y2="247.5" stroke="#000" stroke-opacity="0.7" stroke-width="0.85"/>
<line x1="200.42" y1="250" x2="204.38" y2="250" stroke="#000" stroke-opacity="0.7" stroke-width="0.85"/>
<line x1="213.3" y1="236.3" x2="213.3" y2="255.8" stroke="#6e6e6e" stroke-width="0.75"/>
<polygon points="213.35,242.3 213.81,242.8 213.93,243.3 214.15,243.8 214.40,244.3 214.65,244.8 214.85,245.3 215.06,245.8 215.28,246.3 215.49,246.8 215.68,247.3 215.82,247.8 215.92,248.3 215.94,248.8 215.90,249.3 215.83,249.8 215.72,250.3 215.59,250.8 215.45,251.3 215.29,251.8 215.08,252.3 214.83,252.8 214.55,253.3 214.27,253.8 214.00,254.3 213.35,254.8 213.25,254.8 212.60,254.3 212.33,253.8 212.05,253.3 211.77,252.8 211.52,252.3 211.31,251.8 211.15,251.3 211.01,250.8 210.88,250.3 210.77,249.8 210.70,249.3 210.66,248.8 210.68,248.3 210.78,247.8 210.92,247.3 211.11,246.8 211.32,246.3 211.54,245.8 211.75,245.3 211.95,244.8 212.20,244.3 212.45,243.8 212.67,243.3 212.79,242.8 213.25,242.3" fill="#cad29e" stroke="#000" stroke-opacity="0.65" stroke-width="0.55" stroke-linejoin="round"/>
<line x1="211.45" y1="246" x2="215.15" y2="246" stroke="#000" stroke-opacity="0.7" stroke-width="0.85"/>
<line x1="210.66" y1="248.7" x2="215.94" y2="248.7" stroke="#000" stroke-opacity="0.7" stroke-width="0.85"/>
<line x1="211.07" y1="251" x2="215.53" y2="251" stroke="#000" stroke-opacity="0.7" stroke-width="0.85"/>
<line x1="224.2" y1="234.5" x2="224.2" y2="268.8" stroke="#6e6e6e" stroke-width="0.75"/>
<polygon points="224.25,245.0 224.69,245.5 224.75,246.0 224.86,246.5 225.05,247.0 225.27,247.5 225.48,248.0 225.68,248.5 225.91,249.0 226.13,249.5 226.31,250.0 226.40,250.5 226.43,251.0 226.45,251.5 226.47,252.0 226.49,252.5 226.51,253.0 226.55,253.5 226.61,254.0 226.67,254.5 226.74,255.0 226.79,255.5 226.83,256.0 226.84,256.5 226.82,257.0 226.77,257.5 226.70,258.0 226.62,258.5 226.49,259.0 226.30,259.5 226.06,260.0 225.83,260.5 225.63,261.0 225.46,261.5 225.29,262.0 225.13,262.5 224.99,263.0 224.86,263.5 224.74,264.0 224.25,264.5 224.15,264.5 223.66,264.0 223.54,263.5 223.41,263.0 223.27,262.5 223.11,262.0 222.94,261.5 222.77,261.0 222.57,260.5 222.34,260.0 222.10,259.5 221.91,259.0 221.78,258.5 221.70,258.0 221.63,257.5 221.58,257.0 221.56,256.5 221.57,256.0 221.61,255.5 221.66,255.0 221.73,254.5 221.79,254.0 221.85,253.5 221.89,253.0 221.91,252.5 221.93,252.0 221.95,251.5 221.97,251.0 222.00,250.5 222.09,250.0 222.27,249.5 222.49,249.0 222.72,248.5 222.92,248.0 223.13,247.5 223.35,247.0 223.54,246.5 223.65,246.0 223.71,245.5 224.15,245.0" fill="#cad29e" stroke="#000" stroke-opacity="0.65" stroke-width="0.55" stroke-linejoin="round"/>
<line x1="222.00" y1="250.5" x2="226.40" y2="250.5" stroke="#000" stroke-opacity="0.7" stroke-width="0.85"/>
<line x1="221.56" y1="256.4" x2="226.84" y2="256.4" stroke="#000" stroke-opacity="0.7" stroke-width="0.85"/>
<line x1="221.70" y1="258" x2="226.70" y2="258" stroke="#000" stroke-opacity="0.7" stroke-width="0.85"/>
<line x1="235.1" y1="242.8" x2="235.1" y2="271.7" stroke="#6e6e6e" stroke-width="0.75"/>
<polygon points="235.15,248.8 235.56,249.3 235.62,249.8 235.69,250.3 235.77,250.8 235.87,251.3 235.97,251.8 236.07,252.3 236.16,252.8 236.25,253.3 236.33,253.8 236.41,254.3 236.49,254.8 236.57,255.3 236.65,255.8 236.73,256.3 236.82,256.8 236.90,257.3 236.99,257.8 237.07,258.3 237.16,258.8 237.24,259.3 237.35,259.8 237.46,260.3 237.56,260.8 237.65,261.3 237.72,261.8 237.74,262.3 237.71,262.8 237.62,263.3 237.49,263.8 237.35,264.3 237.21,264.8 237.03,265.3 236.81,265.8 236.57,266.3 236.33,266.8 236.11,267.3 235.90,267.8 235.67,268.3 235.15,268.8 235.05,268.8 234.53,268.3 234.30,267.8 234.09,267.3 233.87,266.8 233.63,266.3 233.39,265.8 233.17,265.3 232.99,264.8 232.85,264.3 232.71,263.8 232.58,263.3 232.49,262.8 232.46,262.3 232.48,261.8 232.55,261.3 232.64,260.8 232.74,260.3 232.85,259.8 232.96,259.3 233.04,258.8 233.13,258.3 233.21,257.8 233.30,257.3 233.38,256.8 233.47,256.3 233.55,255.8 233.63,255.3 233.71,254.8 233.79,254.3 233.87,253.8 233.95,253.3 234.04,252.8 234.13,252.3 234.23,251.8 234.33,251.3 234.43,250.8 234.51,250.3 234.58,249.8 234.64,249.3 235.05,248.8" fill="#cad29e" stroke="#000" stroke-opacity="0.65" stroke-width="0.55" stroke-linejoin="round"/>
<line x1="233.35" y1="257" x2="236.85" y2="257" stroke="#000" stroke-opacity="0.7" stroke-width="0.85"/>
<line x1="232.70" y1="260.5" x2="237.50" y2="260.5" stroke="#000" stroke-opacity="0.7" stroke-width="0.85"/>
<line x1="232.63" y1="263.5" x2="237.57" y2="263.5" stroke="#000" stroke-opacity="0.7" stroke-width="0.85"/>
<line x1="319.3" y1="241.9" x2="319.3" y2="261.4" stroke="#6e6e6e" stroke-width="0.75"/>
<polygon points="319.35,246.9 319.78,247.4 319.87,247.9 320.13,248.4 320.49,248.9 320.80,249.4 320.99,249.9 321.17,250.4 321.33,250.9 321.47,251.4 321.57,251.9 321.61,252.4 321.55,252.9 321.35,253.4 321.07,253.9 320.77,254.4 320.53,254.9 320.40,255.4 320.44,255.9 320.57,256.4 320.74,256.9 320.89,257.4 320.95,257.9 320.87,258.4 320.67,258.9 320.44,259.4 320.21,259.9 319.95,260.4 319.35,260.9 319.25,260.9 318.65,260.4 318.39,259.9 318.16,259.4 317.93,258.9 317.73,258.4 317.65,257.9 317.71,257.4 317.86,256.9 318.03,256.4 318.16,255.9 318.20,255.4 318.07,254.9 317.83,254.4 317.53,253.9 317.25,253.4 317.05,252.9 316.99,252.4 317.03,251.9 317.13,251.4 317.27,250.9 317.43,250.4 317.61,249.9 317.80,249.4 318.11,248.9 318.47,248.4 318.73,247.9 318.82,247.4 319.25,246.9" fill="#de8e1e" stroke="#000" stroke-opacity="0.65" stroke-width="0.55" stroke-linejoin="round"/>
<line x1="317.76" y1="249.5" x2="320.84" y2="249.5" stroke="#000" stroke-opacity="0.7" stroke-width="0.85"/>
<line x1="316.99" y1="252.5" x2="321.61" y2="252.5" stroke="#000" stroke-opacity="0.7" stroke-width="0.85"/>
<line x1="317.65" y1="257.9" x2="320.95" y2="257.9" stroke="#000" stroke-opacity="0.7" stroke-width="0.85"/>
<line x1="330.3" y1="241.3" x2="330.3" y2="263.8" stroke="#6e6e6e" stroke-width="0.75"/>
<polygon points="330.35,246.3 330.76,246.8 330.85,247.3 330.96,247.8 331.20,248.3 331.57,248.8 331.94,249.3 332.22,249.8 332.49,250.3 332.71,250.8 332.83,251.3 332.79,251.8 332.67,252.3 332.48,252.8 332.27,253.3 332.07,253.8 331.92,254.3 331.84,254.8 331.86,255.3 331.94,255.8 332.04,256.3 332.15,256.8 332.23,257.3 332.28,257.8 332.25,258.3 332.16,258.8 332.02,259.3 331.85,259.8 331.68,260.3 331.52,260.8 331.35,261.3 331.17,261.8 330.97,262.3 330.35,262.8 330.25,262.8 329.63,262.3 329.43,261.8 329.25,261.3 329.08,260.8 328.92,260.3 328.75,259.8 328.58,259.3 328.44,258.8 328.35,258.3 328.32,257.8 328.37,257.3 328.45,256.8 328.56,256.3 328.66,255.8 328.74,255.3 328.76,254.8 328.68,254.3 328.53,253.8 328.33,253.3 328.12,252.8 327.93,252.3 327.81,251.8 327.77,251.3 327.89,250.8 328.11,250.3 328.38,249.8 328.66,249.3 329.03,248.8 329.40,248.3 329.64,247.8 329.75,247.3 329.84,246.8 330.25,246.3" fill="#de8e1e" stroke="#000" stroke-opacity="0.65" stroke-width="0.55" stroke-linejoin="round"/>
<line x1="329.57" y1="248" x2="331.03" y2="248" stroke="#000" stroke-opacity="0.7" stroke-width="0.85"/>
<line x1="327.77" y1="251.4" x2="332.83" y2="251.4" stroke="#000" stroke-opacity="0.7" stroke-width="0.85"/>
<line x1="328.32" y1="257.9" x2="332.28" y2="257.9" stroke="#000" stroke-opacity="0.7" stroke-width="0.85"/>
<line x1="341.6" y1="243.1" x2="341.6" y2="266.0" stroke="#6e6e6e" stroke-width="0.75"/>
<polygon points="341.65,249.1 342.14,249.6 342.24,250.1 342.45,250.6 342.86,251.1 343.24,251.6 343.36,252.1 343.31,252.6 343.22,253.1 343.11,253.6 343.00,254.1 342.93,254.6 342.93,255.1 343.07,255.6 343.31,256.1 343.58,256.6 343.83,257.1 343.99,257.6 344.01,258.1 343.95,258.6 343.84,259.1 343.70,259.6 343.54,260.1 343.37,260.6 343.22,261.1 343.07,261.6 342.91,262.1 342.74,262.6 342.57,263.1 342.39,263.6 342.23,264.1 341.65,264.6 341.55,264.6 340.97,264.1 340.81,263.6 340.63,263.1 340.46,262.6 340.29,262.1 340.13,261.6 339.98,261.1 339.83,260.6 339.66,260.1 339.50,259.6 339.36,259.1 339.25,258.6 339.19,258.1 339.21,257.6 339.37,257.1 339.62,256.6 339.89,256.1 340.13,255.6 340.27,255.1 340.27,254.6 340.20,254.1 340.09,253.6 339.98,253.1 339.89,252.6 339.84,252.1 339.96,251.6 340.34,251.1 340.75,250.6 340.96,250.1 341.06,249.6 341.55,249.1" fill="#de8e1e" stroke="#000" stroke-opacity="0.65" stroke-width="0.55" stroke-linejoin="round"/>
<line x1="339.84" y1="252" x2="343.36" y2="252" stroke="#000" stroke-opacity="0.7" stroke-width="0.85"/>
<line x1="340.28" y1="254.9" x2="342.92" y2="254.9" stroke="#000" stroke-opacity="0.7" stroke-width="0.85"/>
<line x1="339.18" y1="257.9" x2="344.02" y2="257.9" stroke="#000" stroke-opacity="0.7" stroke-width="0.85"/>
<line x1="352.4" y1="248.4" x2="352.4" y2="269.7" stroke="#6e6e6e" stroke-width="0.75"/>
<polygon points="352.45,254.9 352.92,255.4 353.02,255.9 353.19,256.4 353.59,256.9 354.11,257.4 354.57,257.9 354.81,258.4 354.77,258.9 354.60,259.4 354.36,259.9 354.08,260.4 353.81,260.9 353.60,261.4 353.50,261.9 353.55,262.4 353.71,262.9 353.95,263.4 354.19,263.9 354.39,264.4 354.49,264.9 354.45,265.4 354.29,265.9 354.06,266.4 353.80,266.9 353.55,267.4 353.32,267.9 353.08,268.4 352.45,268.9 352.35,268.9 351.72,268.4 351.48,267.9 351.25,267.4 351.00,266.9 350.74,266.4 350.51,265.9 350.35,265.4 350.31,264.9 350.41,264.4 350.61,263.9 350.85,263.4 351.09,262.9 351.25,262.4 351.30,261.9 351.20,261.4 350.99,260.9 350.72,260.4 350.44,259.9 350.20,259.4 350.03,258.9 349.99,258.4 350.23,257.9 350.69,257.4 351.21,256.9 351.61,256.4 351.78,255.9 351.88,255.4 352.35,254.9" fill="#de8e1e" stroke="#000" stroke-opacity="0.65" stroke-width="0.55" stroke-linejoin="round"/>
<line x1="351.76" y1="256" x2="353.04" y2="256" stroke="#000" stroke-opacity="0.7" stroke-width="0.85"/>
<line x1="349.98" y1="258.5" x2="354.82" y2="258.5" stroke="#000" stroke-opacity="0.7" stroke-width="0.85"/>
<line x1="350.31" y1="265" x2="354.49" y2="265" stroke="#000" stroke-opacity="0.7" stroke-width="0.85"/>
<line x1="371.2" y1="237.7" x2="371.2" y2="289.0" stroke="#6e6e6e" stroke-width="0.75"/>
<polygon points="371.25,241.2 371.72,241.7 371.86,242.2 372.00,242.7 372.13,243.2 372.28,243.7 372.44,244.2 372.60,244.7 372.75,245.2 372.89,245.7 373.01,246.2 373.13,246.7 373.26,247.2 373.38,247.7 373.48,248.2 373.56,248.7 373.61,249.2 373.62,249.7 373.61,250.2 373.58,250.7 373.54,251.2 373.50,251.7 373.45,252.2 373.39,252.7 373.33,253.2 373.28,253.7 373.20,254.2 373.10,254.7 372.99,255.2 372.89,255.7 372.80,256.2 372.75,256.7 372.74,257.2 372.74,257.7 372.74,258.2 372.74,258.7 372.74,259.2 372.74,259.7 372.74,260.2 372.76,260.7 372.78,261.2 372.82,261.7 372.85,262.2 372.89,262.7 372.92,263.2 372.95,263.7 372.96,264.2 372.93,264.7 372.84,265.2 372.71,265.7 372.56,266.2 372.40,266.7 372.28,267.2 372.14,267.7 371.99,268.2 371.84,268.7 371.73,269.2 371.25,269.7 371.15,269.7 370.67,269.2 370.56,268.7 370.41,268.2 370.26,267.7 370.12,267.2 370.00,266.7 369.84,266.2 369.69,265.7 369.56,265.2 369.47,264.7 369.44,264.2 369.45,263.7 369.48,263.2 369.51,262.7 369.55,262.2 369.58,261.7 369.62,261.2 369.64,260.7 369.66,260.2 369.66,259.7 369.66,259.2 369.66,258.7 369.66,258.2 369.66,257.7 369.66,257.2 369.65,256.7 369.60,256.2 369.51,255.7 369.41,255.2 369.30,254.7 369.20,254.2 369.12,253.7 369.07,253.2 369.01,252.7 368.95,252.2 368.90,251.7 368.86,251.2 368.82,250.7 368.79,250.2 368.78,249.7 368.79,249.2 368.84,248.7 368.92,248.2 369.02,247.7 369.14,247.2 369.27,246.7 369.39,246.2 369.51,245.7 369.65,245.2 369.80,244.7 369.96,244.2 370.12,243.7 370.27,243.2 370.40,242.7 370.54,242.2 370.68,241.7 371.15,241.2" fill="#2ba4d8" stroke="#000" stroke-opacity="0.65" stroke-width="0.55" stroke-linejoin="round"/>
<polygon points="371.25,271.2 371.68,271.7 371.71,272.2 371.73,272.7 371.76,273.2 371.80,273.7 371.83,274.2 371.86,274.7 371.89,275.2 371.91,275.7 371.94,276.2 371.95,276.7 371.97,277.2 371.97,277.7 371.94,278.2 371.85,278.7 371.72,279.2 371.25,279.7 371.15,279.7 370.68,279.2 370.55,278.7 370.46,278.2 370.43,277.7 370.43,277.2 370.45,276.7 370.46,276.2 370.49,275.7 370.51,275.2 370.54,274.7 370.57,274.2 370.60,273.7 370.64,273.2 370.67,272.7 370.69,272.2 370.72,271.7 371.15,271.2" fill="#2ba4d8" stroke="#000" stroke-opacity="0.65" stroke-width="0.55" stroke-linejoin="round"/>
<line x1="368.78" y1="249.5" x2="373.62" y2="249.5" stroke="#000" stroke-opacity="0.7" stroke-width="0.85"/>
<line x1="369.11" y1="253.6" x2="373.29" y2="253.6" stroke="#000" stroke-opacity="0.7" stroke-width="0.85"/>
<line x1="369.44" y1="264.3" x2="372.96" y2="264.3" stroke="#000" stroke-opacity="0.7" stroke-width="0.85"/>
<line x1="382.1" y1="239.5" x2="382.1" y2="289.0" stroke="#6e6e6e" stroke-width="0.75"/>
<polygon points="382.15,243.0 382.64,243.5 382.82,244.0 382.98,244.5 383.15,245.0 383.33,245.5 383.52,246.0 383.70,246.5 383.86,247.0 383.97,247.5 384.06,248.0 384.14,248.5 384.22,249.0 384.29,249.5 384.34,250.0 384.38,250.5 384.41,251.0 384.41,251.5 384.37,252.0 384.30,252.5 384.21,253.0 384.11,253.5 384.01,254.0 383.92,254.5 383.86,255.0 383.82,255.5 383.77,256.0 383.73,256.5 383.70,257.0 383.66,257.5 383.63,258.0 383.60,258.5 383.58,259.0 383.55,259.5 383.53,260.0 383.52,260.5 383.50,261.0 383.49,261.5 383.48,262.0 383.47,262.5 383.46,263.0 383.44,263.5 383.42,264.0 383.38,264.5 383.32,265.0 383.24,265.5 383.15,266.0 383.06,266.5 382.98,267.0 382.90,267.5 382.80,268.0 382.71,268.5 382.62,269.0 382.56,269.5 382.15,270.0 382.05,270.0 381.64,269.5 381.58,269.0 381.50,268.5 381.40,268.0 381.30,267.5 381.22,267.0 381.14,266.5 381.05,266.0 380.96,265.5 380.88,265.0 380.82,264.5 380.78,264.0 380.76,263.5 380.74,263.0 380.73,262.5 380.72,262.0 380.71,261.5 380.70,261.0 380.68,260.5 380.67,260.0 380.65,259.5 380.62,259.0 380.60,258.5 380.57,258.0 380.54,257.5 380.50,257.0 380.47,256.5 380.43,256.0 380.38,255.5 380.34,255.0 380.28,254.5 380.19,254.0 380.09,253.5 379.99,253.0 379.90,252.5 379.83,252.0 379.79,251.5 379.79,251.0 379.82,250.5 379.86,250.0 379.91,249.5 379.98,249.0 380.06,248.5 380.14,248.0 380.23,247.5 380.34,247.0 380.50,246.5 380.68,246.0 380.87,245.5 381.05,245.0 381.22,244.5 381.38,244.0 381.56,243.5 382.05,243.0" fill="#2ba4d8" stroke="#000" stroke-opacity="0.65" stroke-width="0.55" stroke-linejoin="round"/>
<polygon points="382.15,271.0 382.57,271.5 382.58,272.0 382.60,272.5 382.63,273.0 382.65,273.5 382.67,274.0 382.70,274.5 382.72,275.0 382.73,275.5 382.75,276.0 382.76,276.5 382.76,277.0 382.74,277.5 382.69,278.0 382.62,278.5 382.15,279.0 382.05,279.0 381.58,278.5 381.51,278.0 381.46,277.5 381.44,277.0 381.44,276.5 381.45,276.0 381.47,275.5 381.48,275.0 381.50,274.5 381.53,274.0 381.55,273.5 381.57,273.0 381.60,272.5 381.62,272.0 381.63,271.5 382.05,271.0" fill="#2ba4d8" stroke="#000" stroke-opacity="0.65" stroke-width="0.55" stroke-linejoin="round"/>
<line x1="380.23" y1="247.5" x2="383.97" y2="247.5" stroke="#000" stroke-opacity="0.7" stroke-width="0.85"/>
<line x1="379.79" y1="251.3" x2="384.41" y2="251.3" stroke="#000" stroke-opacity="0.7" stroke-width="0.85"/>
<line x1="380.67" y1="260.1" x2="383.53" y2="260.1" stroke="#000" stroke-opacity="0.7" stroke-width="0.85"/>
<line x1="393.3" y1="235.3" x2="393.3" y2="291.9" stroke="#6e6e6e" stroke-width="0.75"/>
<polygon points="393.35,239.8 393.84,240.3 393.95,240.8 394.07,241.3 394.18,241.8 394.30,242.3 394.44,242.8 394.59,243.3 394.73,243.8 394.88,244.3 395.01,244.8 395.13,245.3 395.23,245.8 395.33,246.3 395.42,246.8 395.52,247.3 395.61,247.8 395.69,248.3 395.75,248.8 395.80,249.3 395.83,249.8 395.83,250.3 395.81,250.8 395.78,251.3 395.73,251.8 395.68,252.3 395.63,252.8 395.58,253.3 395.53,253.8 395.49,254.3 395.46,254.8 395.42,255.3 395.38,255.8 395.34,256.3 395.31,256.8 395.29,257.3 395.28,257.8 395.28,258.3 395.28,258.8 395.29,259.3 395.30,259.8 395.31,260.3 395.33,260.8 395.34,261.3 395.35,261.8 395.36,262.3 395.37,262.8 395.38,263.3 395.39,263.8 395.39,264.3 395.38,264.8 395.34,265.3 395.29,265.8 395.22,266.3 395.14,266.8 395.06,267.3 394.98,267.8 394.90,268.3 394.79,268.8 394.66,269.3 394.52,269.8 394.38,270.3 394.25,270.8 394.15,271.3 394.07,271.8 394.01,272.3 393.95,272.8 393.90,273.3 393.85,273.8 393.81,274.3 393.78,274.8 393.35,275.3 393.25,275.3 392.82,274.8 392.79,274.3 392.75,273.8 392.70,273.3 392.65,272.8 392.59,272.3 392.53,271.8 392.45,271.3 392.35,270.8 392.22,270.3 392.08,269.8 391.94,269.3 391.81,268.8 391.70,268.3 391.62,267.8 391.54,267.3 391.46,266.8 391.38,266.3 391.31,265.8 391.26,265.3 391.22,264.8 391.21,264.3 391.21,263.8 391.22,263.3 391.23,262.8 391.24,262.3 391.25,261.8 391.26,261.3 391.27,260.8 391.29,260.3 391.30,259.8 391.31,259.3 391.32,258.8 391.32,258.3 391.32,257.8 391.31,257.3 391.29,256.8 391.26,256.3 391.22,255.8 391.18,255.3 391.14,254.8 391.11,254.3 391.07,253.8 391.02,253.3 390.97,252.8 390.92,252.3 390.87,251.8 390.82,251.3 390.79,250.8 390.77,250.3 390.77,249.8 390.80,249.3 390.85,248.8 390.91,248.3 390.99,247.8 391.08,247.3 391.18,246.8 391.27,246.3 391.37,245.8 391.47,245.3 391.59,244.8 391.72,244.3 391.87,243.8 392.01,243.3 392.16,242.8 392.30,242.3 392.42,241.8 392.53,241.3 392.65,240.8 392.76,240.3 393.25,239.8" fill="#2ba4d8" stroke="#000" stroke-opacity="0.65" stroke-width="0.55" stroke-linejoin="round"/>
<polygon points="393.35,276.8 393.77,277.3 393.79,277.8 393.81,278.3 393.84,278.8 393.87,279.3 393.89,279.8 393.92,280.3 393.94,280.8 393.95,281.3 393.96,281.8 393.95,282.3 393.91,282.8 393.85,283.3 393.77,283.8 393.35,284.3 393.25,284.3 392.83,283.8 392.75,283.3 392.69,282.8 392.65,282.3 392.64,281.8 392.65,281.3 392.66,280.8 392.68,280.3 392.71,279.8 392.73,279.3 392.76,278.8 392.79,278.3 392.81,277.8 392.83,277.3 393.25,276.8" fill="#2ba4d8" stroke="#000" stroke-opacity="0.65" stroke-width="0.55" stroke-linejoin="round"/>
<line x1="390.77" y1="250.1" x2="395.83" y2="250.1" stroke="#000" stroke-opacity="0.7" stroke-width="0.85"/>
<line x1="391.10" y1="254.2" x2="395.50" y2="254.2" stroke="#000" stroke-opacity="0.7" stroke-width="0.85"/>
<line x1="391.21" y1="264.3" x2="395.39" y2="264.3" stroke="#000" stroke-opacity="0.7" stroke-width="0.85"/>
<line x1="404.0" y1="237.7" x2="404.0" y2="290.7" stroke="#6e6e6e" stroke-width="0.75"/>
<polygon points="404.05,241.7 404.52,242.2 404.63,242.7 404.75,243.2 404.87,243.7 404.99,244.2 405.13,244.7 405.31,245.2 405.49,245.7 405.68,246.2 405.86,246.7 406.01,247.2 406.14,247.7 406.25,248.2 406.37,248.7 406.48,249.2 406.56,249.7 406.62,250.2 406.64,250.7 406.63,251.2 406.60,251.7 406.56,252.2 406.51,252.7 406.46,253.2 406.40,253.7 406.36,254.2 406.32,254.7 406.30,255.2 406.29,255.7 406.27,256.2 406.25,256.7 406.24,257.2 406.23,257.7 406.22,258.2 406.21,258.7 406.20,259.2 406.20,259.7 406.20,260.2 406.20,260.7 406.20,261.2 406.20,261.7 406.20,262.2 406.20,262.7 406.20,263.2 406.20,263.7 406.20,264.2 406.20,264.7 406.20,265.2 406.20,265.7 406.20,266.2 406.20,266.7 406.20,267.2 406.18,267.7 406.15,268.2 406.10,268.7 406.04,269.2 405.97,269.7 405.90,270.2 405.83,270.7 405.76,271.2 405.69,271.7 405.62,272.2 405.56,272.7 405.48,273.2 405.40,273.7 405.33,274.2 405.25,274.7 405.19,275.2 405.13,275.7 405.08,276.2 405.05,276.7 405.01,277.2 404.99,277.7 404.96,278.2 404.94,278.7 404.91,279.2 404.88,279.7 404.85,280.2 404.82,280.7 404.78,281.2 404.72,281.7 404.64,282.2 404.54,282.7 404.05,283.2 403.95,283.2 403.46,282.7 403.36,282.2 403.28,281.7 403.22,281.2 403.18,280.7 403.15,280.2 403.12,279.7 403.09,279.2 403.06,278.7 403.04,278.2 403.01,277.7 402.99,277.2 402.95,276.7 402.92,276.2 402.87,275.7 402.81,275.2 402.75,274.7 402.67,274.2 402.60,273.7 402.52,273.2 402.44,272.7 402.38,272.2 402.31,271.7 402.24,271.2 402.17,270.7 402.10,270.2 402.03,269.7 401.96,269.2 401.90,268.7 401.85,268.2 401.82,267.7 401.80,267.2 401.80,266.7 401.80,266.2 401.80,265.7 401.80,265.2 401.80,264.7 401.80,264.2 401.80,263.7 401.80,263.2 401.80,262.7 401.80,262.2 401.80,261.7 401.80,261.2 401.80,260.7 401.80,260.2 401.80,259.7 401.80,259.2 401.79,258.7 401.78,258.2 401.77,257.7 401.76,257.2 401.75,256.7 401.73,256.2 401.71,255.7 401.70,255.2 401.68,254.7 401.64,254.2 401.60,253.7 401.54,253.2 401.49,252.7 401.44,252.2 401.40,251.7 401.37,251.2 401.36,250.7 401.38,250.2 401.44,249.7 401.52,249.2 401.63,248.7 401.75,248.2 401.86,247.7 401.99,247.2 402.14,246.7 402.32,246.2 402.51,245.7 402.69,245.2 402.87,244.7 403.01,244.2 403.13,243.7 403.25,243.2 403.37,242.7 403.48,242.2 403.95,241.7" fill="#2ba4d8" stroke="#000" stroke-opacity="0.65" stroke-width="0.55" stroke-linejoin="round"/>
<line x1="401.36" y1="250.7" x2="406.64" y2="250.7" stroke="#000" stroke-opacity="0.7" stroke-width="0.85"/>
<line x1="401.77" y1="257.8" x2="406.23" y2="257.8" stroke="#000" stroke-opacity="0.7" stroke-width="0.85"/>
<line x1="401.80" y1="266.6" x2="406.20" y2="266.6" stroke="#000" stroke-opacity="0.7" stroke-width="0.85"/>
<line x1="422.9" y1="238.3" x2="422.9" y2="294.6" stroke="#6e6e6e" stroke-width="0.75"/>
<polygon points="422.95,242.3 423.40,242.8 423.52,243.3 423.67,243.8 423.82,244.3 423.98,244.8 424.14,245.3 424.28,245.8 424.40,246.3 424.51,246.8 424.62,247.3 424.73,247.8 424.83,248.3 424.92,248.8 425.00,249.3 425.07,249.8 425.14,250.3 425.20,250.8 425.27,251.3 425.33,251.8 425.38,252.3 425.44,252.8 425.48,253.3 425.51,253.8 425.53,254.3 425.54,254.8 425.53,255.3 425.50,255.8 425.45,256.3 425.39,256.8 425.33,257.3 425.26,257.8 425.19,258.3 425.12,258.8 425.07,259.3 425.01,259.8 424.95,260.3 424.89,260.8 424.83,261.3 424.77,261.8 424.71,262.3 424.65,262.8 424.58,263.3 424.50,263.8 424.43,264.3 424.35,264.8 424.26,265.3 424.16,265.8 424.05,266.3 423.93,266.8 423.79,267.3 423.63,267.8 423.40,268.3 422.95,268.8 422.85,268.8 422.40,268.3 422.17,267.8 422.01,267.3 421.87,266.8 421.75,266.3 421.64,265.8 421.54,265.3 421.45,264.8 421.37,264.3 421.30,263.8 421.22,263.3 421.15,262.8 421.09,262.3 421.03,261.8 420.97,261.3 420.91,260.8 420.85,260.3 420.79,259.8 420.73,259.3 420.68,258.8 420.61,258.3 420.54,257.8 420.47,257.3 420.41,256.8 420.35,256.3 420.30,255.8 420.27,255.3 420.26,254.8 420.27,254.3 420.29,253.8 420.32,253.3 420.36,252.8 420.42,252.3 420.47,251.8 420.53,251.3 420.60,250.8 420.66,250.3 420.73,249.8 420.80,249.3 420.88,248.8 420.97,248.3 421.07,247.8 421.18,247.3 421.29,246.8 421.40,246.3 421.52,245.8 421.66,245.3 421.82,244.8 421.98,244.3 422.13,243.8 422.28,243.3 422.40,242.8 422.85,242.3" fill="#d2116f" stroke="#000" stroke-opacity="0.65" stroke-width="0.55" stroke-linejoin="round"/>
<polygon points="422.95,272.3 423.51,272.8 423.56,273.3 423.56,273.8 423.56,274.3 423.56,274.8 423.56,275.3 423.56,275.8 423.56,276.3 423.56,276.8 423.56,277.3 423.56,277.8 423.56,278.3 423.56,278.8 423.56,279.3 423.56,279.8 423.56,280.3 423.56,280.8 423.56,281.3 423.56,281.8 423.56,282.3 423.56,282.8 423.45,283.3 422.95,283.8 422.85,283.8 422.35,283.3 422.24,282.8 422.24,282.3 422.24,281.8 422.24,281.3 422.24,280.8 422.24,280.3 422.24,279.8 422.24,279.3 422.24,278.8 422.24,278.3 422.24,277.8 422.24,277.3 422.24,276.8 422.24,276.3 422.24,275.8 422.24,275.3 422.24,274.8 422.24,274.3 422.24,273.8 422.24,273.3 422.29,272.8 422.85,272.3" fill="#d2116f" stroke="#000" stroke-opacity="0.65" stroke-width="0.55" stroke-linejoin="round"/>
<polygon points="422.95,287.3 423.51,287.8 423.56,288.3 423.56,288.8 423.56,289.3 423.56,289.8 423.56,290.3 423.56,290.8 423.56,291.3 423.56,291.8 423.56,292.3 423.56,292.8 423.56,293.3 423.48,293.8 422.95,294.3 422.85,294.3 422.32,293.8 422.24,293.3 422.24,292.8 422.24,292.3 422.24,291.8 422.24,291.3 422.24,290.8 422.24,290.3 422.24,289.8 422.24,289.3 422.24,288.8 422.24,288.3 422.29,287.8 422.85,287.3" fill="#d2116f" stroke="#000" stroke-opacity="0.65" stroke-width="0.55" stroke-linejoin="round"/>
<line x1="420.70" y1="250" x2="425.10" y2="250" stroke="#000" stroke-opacity="0.7" stroke-width="0.85"/>
<line x1="420.26" y1="254.8" x2="425.54" y2="254.8" stroke="#000" stroke-opacity="0.7" stroke-width="0.85"/>
<line x1="420.70" y1="259" x2="425.10" y2="259" stroke="#000" stroke-opacity="0.7" stroke-width="0.85"/>
<line x1="433.9" y1="240.0" x2="433.9" y2="295.1" stroke="#6e6e6e" stroke-width="0.75"/>
<polygon points="433.95,244.0 434.42,244.5 434.56,245.0 434.70,245.5 434.86,246.0 435.02,246.5 435.17,247.0 435.31,247.5 435.44,248.0 435.56,248.5 435.68,249.0 435.80,249.5 435.92,250.0 436.03,250.5 436.13,251.0 436.23,251.5 436.31,252.0 436.37,252.5 436.41,253.0 436.43,253.5 436.43,254.0 436.41,254.5 436.38,255.0 436.34,255.5 436.30,256.0 436.25,256.5 436.20,257.0 436.15,257.5 436.10,258.0 436.05,258.5 436.00,259.0 435.94,259.5 435.88,260.0 435.82,260.5 435.75,261.0 435.68,261.5 435.60,262.0 435.51,262.5 435.42,263.0 435.32,263.5 435.22,264.0 435.09,264.5 434.94,265.0 434.76,265.5 434.56,266.0 433.95,266.5 433.85,266.5 433.24,266.0 433.04,265.5 432.86,265.0 432.71,264.5 432.58,264.0 432.48,263.5 432.38,263.0 432.29,262.5 432.20,262.0 432.12,261.5 432.05,261.0 431.98,260.5 431.92,260.0 431.86,259.5 431.80,259.0 431.75,258.5 431.70,258.0 431.65,257.5 431.60,257.0 431.55,256.5 431.50,256.0 431.46,255.5 431.42,255.0 431.39,254.5 431.37,254.0 431.37,253.5 431.39,253.0 431.43,252.5 431.49,252.0 431.57,251.5 431.67,251.0 431.77,250.5 431.88,250.0 432.00,249.5 432.12,249.0 432.24,248.5 432.36,248.0 432.49,247.5 432.63,247.0 432.78,246.5 432.94,246.0 433.10,245.5 433.24,245.0 433.38,244.5 433.85,244.0" fill="#d2116f" stroke="#000" stroke-opacity="0.65" stroke-width="0.55" stroke-linejoin="round"/>
<polygon points="433.95,270.5 434.56,271.0 434.56,271.5 434.56,272.0 434.56,272.5 434.56,273.0 434.56,273.5 434.56,274.0 434.56,274.5 434.56,275.0 434.56,275.5 434.56,276.0 434.56,276.5 434.56,277.0 434.56,277.5 434.56,278.0 434.56,278.5 433.95,279.0 433.85,279.0 433.24,278.5 433.24,278.0 433.24,277.5 433.24,277.0 433.24,276.5 433.24,276.0 433.24,275.5 433.24,275.0 433.24,274.5 433.24,274.0 433.24,273.5 433.24,273.0 433.24,272.5 433.24,272.0 433.24,271.5 433.24,271.0 433.85,270.5" fill="#d2116f" stroke="#000" stroke-opacity="0.65" stroke-width="0.55" stroke-linejoin="round"/>
<polygon points="433.95,283.0 434.56,283.5 434.56,284.0 434.56,284.5 434.56,285.0 434.56,285.5 434.56,286.0 434.56,286.5 434.56,287.0 434.56,287.5 434.56,288.0 434.56,288.5 434.56,289.0 434.56,289.5 434.56,290.0 434.56,290.5 434.56,291.0 434.56,291.5 434.56,292.0 434.56,292.5 434.56,293.0 434.56,293.5 434.56,294.0 433.95,294.5 433.85,294.5 433.24,294.0 433.24,293.5 433.24,293.0 433.24,292.5 433.24,292.0 433.24,291.5 433.24,291.0 433.24,290.5 433.24,290.0 433.24,289.5 433.24,289.0 433.24,288.5 433.24,288.0 433.24,287.5 433.24,287.0 433.24,286.5 433.24,286.0 433.24,285.5 433.24,285.0 433.24,284.5 433.24,284.0 433.24,283.5 433.85,283.0" fill="#d2116f" stroke="#000" stroke-opacity="0.65" stroke-width="0.55" stroke-linejoin="round"/>
<line x1="432.00" y1="249.5" x2="435.80" y2="249.5" stroke="#000" stroke-opacity="0.7" stroke-width="0.85"/>
<line x1="431.37" y1="253.6" x2="436.43" y2="253.6" stroke="#000" stroke-opacity="0.7" stroke-width="0.85"/>
<line x1="431.75" y1="258.5" x2="436.05" y2="258.5" stroke="#000" stroke-opacity="0.7" stroke-width="0.85"/>
<line x1="445.0" y1="238.3" x2="445.0" y2="302.2" stroke="#6e6e6e" stroke-width="0.75"/>
<polygon points="445.05,244.8 445.48,245.3 445.53,245.8 445.59,246.3 445.68,246.8 445.78,247.3 445.90,247.8 446.02,248.3 446.15,248.8 446.27,249.3 446.38,249.8 446.46,250.3 446.54,250.8 446.62,251.3 446.70,251.8 446.77,252.3 446.83,252.8 446.90,253.3 446.96,253.8 447.02,254.3 447.08,254.8 447.15,255.3 447.21,255.8 447.28,256.3 447.33,256.8 447.38,257.3 447.41,257.8 447.42,258.3 447.41,258.8 447.38,259.3 447.33,259.8 447.26,260.3 447.18,260.8 447.10,261.3 447.01,261.8 446.92,262.3 446.80,262.8 446.66,263.3 446.50,263.8 446.36,264.3 446.23,264.8 446.13,265.3 446.07,265.8 446.01,266.3 445.96,266.8 445.92,267.3 445.88,267.8 445.84,268.3 445.81,268.8 445.79,269.3 445.77,269.8 445.76,270.3 445.76,270.8 445.75,271.3 445.74,271.8 445.74,272.3 445.73,272.8 445.73,273.3 445.73,273.8 445.72,274.3 445.72,274.8 445.72,275.3 445.72,275.8 445.71,276.3 445.71,276.8 445.71,277.3 445.70,277.8 445.69,278.3 445.69,278.8 445.68,279.3 445.67,279.8 445.62,280.3 445.48,280.8 445.05,281.3 444.95,281.3 444.52,280.8 444.38,280.3 444.33,279.8 444.32,279.3 444.31,278.8 444.31,278.3 444.30,277.8 444.29,277.3 444.29,276.8 444.29,276.3 444.28,275.8 444.28,275.3 444.28,274.8 444.28,274.3 444.27,273.8 444.27,273.3 444.27,272.8 444.26,272.3 444.26,271.8 444.25,271.3 444.24,270.8 444.24,270.3 444.23,269.8 444.21,269.3 444.19,268.8 444.16,268.3 444.12,267.8 444.08,267.3 444.04,266.8 443.99,266.3 443.93,265.8 443.87,265.3 443.77,264.8 443.64,264.3 443.50,263.8 443.34,263.3 443.20,262.8 443.08,262.3 442.99,261.8 442.90,261.3 442.82,260.8 442.74,260.3 442.67,259.8 442.62,259.3 442.59,258.8 442.58,258.3 442.59,257.8 442.62,257.3 442.67,256.8 442.72,256.3 442.79,255.8 442.85,255.3 442.92,254.8 442.98,254.3 443.04,253.8 443.10,253.3 443.17,252.8 443.23,252.3 443.30,251.8 443.38,251.3 443.46,250.8 443.54,250.3 443.62,249.8 443.73,249.3 443.85,248.8 443.98,248.3 444.10,247.8 444.22,247.3 444.32,246.8 444.41,246.3 444.47,245.8 444.52,245.3 444.95,244.8" fill="#d2116f" stroke="#000" stroke-opacity="0.65" stroke-width="0.55" stroke-linejoin="round"/>
<polygon points="445.05,286.3 445.47,286.8 445.72,287.3 445.82,287.8 445.89,288.3 445.94,288.8 445.98,289.3 445.99,289.8 445.97,290.3 445.92,290.8 445.85,291.3 445.78,291.8 445.71,292.3 445.67,292.8 445.65,293.3 445.64,293.8 445.63,294.3 445.63,294.8 445.62,295.3 445.62,295.8 445.62,296.3 445.61,296.8 445.61,297.3 445.61,297.8 445.60,298.3 445.60,298.8 445.59,299.3 445.58,299.8 445.57,300.3 445.56,300.8 445.49,301.3 445.05,301.8 444.95,301.8 444.51,301.3 444.44,300.8 444.43,300.3 444.42,299.8 444.41,299.3 444.40,298.8 444.40,298.3 444.39,297.8 444.39,297.3 444.39,296.8 444.38,296.3 444.38,295.8 444.38,295.3 444.37,294.8 444.37,294.3 444.36,293.8 444.35,293.3 444.33,292.8 444.29,292.3 444.22,291.8 444.15,291.3 444.08,290.8 444.03,290.3 444.01,289.8 444.02,289.3 444.06,288.8 444.11,288.3 444.18,287.8 444.28,287.3 444.53,286.8 444.95,286.3" fill="#d2116f" stroke="#000" stroke-opacity="0.65" stroke-width="0.55" stroke-linejoin="round"/>
<line x1="443.02" y1="254" x2="446.98" y2="254" stroke="#000" stroke-opacity="0.7" stroke-width="0.85"/>
<line x1="442.58" y1="258.4" x2="447.42" y2="258.4" stroke="#000" stroke-opacity="0.7" stroke-width="0.85"/>
<line x1="443.02" y1="262" x2="446.98" y2="262" stroke="#000" stroke-opacity="0.7" stroke-width="0.85"/>
<line x1="455.6" y1="241.8" x2="455.6" y2="303.4" stroke="#6e6e6e" stroke-width="0.75"/>
<polygon points="455.65,245.8 456.12,246.3 456.22,246.8 456.33,247.3 456.49,247.8 456.67,248.3 456.86,248.8 457.04,249.3 457.18,249.8 457.29,250.3 457.38,250.8 457.47,251.3 457.56,251.8 457.65,252.3 457.73,252.8 457.81,253.3 457.88,253.8 457.94,254.3 458.00,254.8 458.05,255.3 458.08,255.8 458.11,256.3 458.13,256.8 458.13,257.3 458.13,257.8 458.12,258.3 458.10,258.8 458.08,259.3 458.06,259.8 458.03,260.3 458.01,260.8 457.98,261.3 457.96,261.8 457.94,262.3 457.92,262.8 457.90,263.3 457.89,263.8 457.87,264.3 457.86,264.8 457.85,265.3 457.83,265.8 457.82,266.3 457.81,266.8 457.80,267.3 457.78,267.8 457.77,268.3 457.75,268.8 457.73,269.3 457.71,269.8 457.68,270.3 457.65,270.8 457.60,271.3 457.54,271.8 457.48,272.3 457.41,272.8 457.34,273.3 457.28,273.8 457.21,274.3 457.14,274.8 457.06,275.3 456.97,275.8 456.89,276.3 456.80,276.8 456.72,277.3 456.64,277.8 456.57,278.3 456.52,278.8 456.47,279.3 456.44,279.8 456.41,280.3 456.39,280.8 456.38,281.3 456.35,281.8 456.32,282.3 456.28,282.8 456.19,283.3 455.65,283.8 455.55,283.8 455.01,283.3 454.92,282.8 454.88,282.3 454.85,281.8 454.82,281.3 454.81,280.8 454.79,280.3 454.76,279.8 454.73,279.3 454.68,278.8 454.63,278.3 454.56,277.8 454.48,277.3 454.40,276.8 454.31,276.3 454.23,275.8 454.14,275.3 454.06,274.8 453.99,274.3 453.92,273.8 453.86,273.3 453.79,272.8 453.72,272.3 453.66,271.8 453.60,271.3 453.55,270.8 453.52,270.3 453.49,269.8 453.47,269.3 453.45,268.8 453.43,268.3 453.42,267.8 453.40,267.3 453.39,266.8 453.38,266.3 453.37,265.8 453.35,265.3 453.34,264.8 453.33,264.3 453.31,263.8 453.30,263.3 453.28,262.8 453.26,262.3 453.24,261.8 453.22,261.3 453.19,260.8 453.17,260.3 453.14,259.8 453.12,259.3 453.10,258.8 453.08,258.3 453.07,257.8 453.07,257.3 453.07,256.8 453.09,256.3 453.12,255.8 453.15,255.3 453.20,254.8 453.26,254.3 453.32,253.8 453.39,253.3 453.47,252.8 453.55,252.3 453.64,251.8 453.73,251.3 453.82,250.8 453.91,250.3 454.02,249.8 454.16,249.3 454.34,248.8 454.53,248.3 454.71,247.8 454.87,247.3 454.98,246.8 455.08,246.3 455.55,245.8" fill="#d2116f" stroke="#000" stroke-opacity="0.65" stroke-width="0.55" stroke-linejoin="round"/>
<polygon points="455.65,288.3 456.31,288.8 456.37,289.3 456.35,289.8 456.33,290.3 456.31,290.8 456.28,291.3 456.26,291.8 456.25,292.3 456.25,292.8 456.24,293.3 456.23,293.8 456.23,294.3 456.22,294.8 456.22,295.3 456.22,295.8 456.22,296.3 456.21,296.8 456.21,297.3 456.20,297.8 456.20,298.3 456.19,298.8 456.19,299.3 456.18,299.8 456.17,300.3 456.16,300.8 456.13,301.3 455.65,301.8 455.55,301.8 455.07,301.3 455.04,300.8 455.03,300.3 455.02,299.8 455.01,299.3 455.01,298.8 455.00,298.3 455.00,297.8 454.99,297.3 454.99,296.8 454.98,296.3 454.98,295.8 454.98,295.3 454.98,294.8 454.97,294.3 454.97,293.8 454.96,293.3 454.95,292.8 454.95,292.3 454.94,291.8 454.92,291.3 454.89,290.8 454.87,290.3 454.85,289.8 454.83,289.3 454.89,288.8 455.55,288.3" fill="#d2116f" stroke="#000" stroke-opacity="0.65" stroke-width="0.55" stroke-linejoin="round"/>
<line x1="453.30" y1="254" x2="457.90" y2="254" stroke="#000" stroke-opacity="0.7" stroke-width="0.85"/>
<line x1="453.15" y1="260" x2="458.05" y2="260" stroke="#000" stroke-opacity="0.7" stroke-width="0.85"/>
<line x1="453.37" y1="266" x2="457.83" y2="266" stroke="#000" stroke-opacity="0.7" stroke-width="0.85"/>
<line x1="474.5" y1="237.1" x2="474.5" y2="271.4" stroke="#6e6e6e" stroke-width="0.75"/>
<polygon points="474.55,241.6 475.00,242.1 475.09,242.6 475.18,243.1 475.25,243.6 475.33,244.1 475.40,244.6 475.47,245.1 475.54,245.6 475.61,246.1 475.68,246.6 475.74,247.1 475.81,247.6 475.87,248.1 475.93,248.6 475.99,249.1 476.05,249.6 476.11,250.1 476.16,250.6 476.22,251.1 476.27,251.6 476.33,252.1 476.38,252.6 476.43,253.1 476.48,253.6 476.53,254.1 476.58,254.6 476.62,255.1 476.67,255.6 476.71,256.1 476.76,256.6 476.80,257.1 476.85,257.6 476.89,258.1 476.94,258.6 477.00,259.1 477.06,259.6 477.11,260.1 477.14,260.6 477.12,261.1 477.06,261.6 476.97,262.1 476.85,262.6 476.72,263.1 476.58,263.6 476.45,264.1 476.31,264.6 476.14,265.1 475.96,265.6 475.77,266.1 475.58,266.6 475.40,267.1 475.22,267.6 475.06,268.1 474.55,268.6 474.45,268.6 473.94,268.1 473.78,267.6 473.60,267.1 473.42,266.6 473.23,266.1 473.04,265.6 472.86,265.1 472.69,264.6 472.55,264.1 472.42,263.6 472.28,263.1 472.15,262.6 472.03,262.1 471.94,261.6 471.88,261.1 471.86,260.6 471.89,260.1 471.94,259.6 472.00,259.1 472.06,258.6 472.11,258.1 472.15,257.6 472.20,257.1 472.24,256.6 472.29,256.1 472.33,255.6 472.38,255.1 472.42,254.6 472.47,254.1 472.52,253.6 472.57,253.1 472.62,252.6 472.67,252.1 472.73,251.6 472.78,251.1 472.84,250.6 472.89,250.1 472.95,249.6 473.01,249.1 473.07,248.6 473.13,248.1 473.19,247.6 473.26,247.1 473.32,246.6 473.39,246.1 473.46,245.6 473.53,245.1 473.60,244.6 473.67,244.1 473.75,243.6 473.82,243.1 473.91,242.6 474.00,242.1 474.45,241.6" fill="#cad29e" stroke="#000" stroke-opacity="0.65" stroke-width="0.55" stroke-linejoin="round"/>
<line x1="472.52" y1="253.6" x2="476.48" y2="253.6" stroke="#000" stroke-opacity="0.7" stroke-width="0.85"/>
<line x1="472.08" y1="258.4" x2="476.92" y2="258.4" stroke="#000" stroke-opacity="0.7" stroke-width="0.85"/>
<line x1="472.01" y1="262" x2="476.99" y2="262" stroke="#000" stroke-opacity="0.7" stroke-width="0.85"/>
<line x1="485.5" y1="244.2" x2="485.5" y2="269.0" stroke="#6e6e6e" stroke-width="0.75"/>
<polygon points="485.55,246.7 486.23,247.2 486.47,247.7 486.68,248.2 486.87,248.7 487.05,249.2 487.21,249.7 487.37,250.2 487.54,250.7 487.70,251.2 487.84,251.7 487.97,252.2 488.06,252.7 488.12,253.2 488.14,253.7 488.09,254.2 487.99,254.7 487.85,255.2 487.70,255.7 487.55,256.2 487.41,256.7 487.31,257.2 487.26,257.7 487.30,258.2 487.41,258.7 487.55,259.2 487.66,259.7 487.70,260.2 487.66,260.7 487.58,261.2 487.47,261.7 487.34,262.2 487.22,262.7 487.11,263.2 486.99,263.7 486.86,264.2 486.72,264.7 486.59,265.2 486.46,265.7 486.33,266.2 486.22,266.7 486.10,267.2 485.97,267.7 485.55,268.2 485.45,268.2 485.03,267.7 484.90,267.2 484.78,266.7 484.67,266.2 484.54,265.7 484.41,265.2 484.28,264.7 484.14,264.2 484.01,263.7 483.89,263.2 483.78,262.7 483.66,262.2 483.53,261.7 483.42,261.2 483.34,260.7 483.30,260.2 483.34,259.7 483.45,259.2 483.59,258.7 483.70,258.2 483.74,257.7 483.69,257.2 483.59,256.7 483.45,256.2 483.30,255.7 483.15,255.2 483.01,254.7 482.91,254.2 482.86,253.7 482.88,253.2 482.94,252.7 483.03,252.2 483.16,251.7 483.30,251.2 483.46,250.7 483.63,250.2 483.79,249.7 483.95,249.2 484.13,248.7 484.32,248.2 484.53,247.7 484.77,247.2 485.45,246.7" fill="#cad29e" stroke="#000" stroke-opacity="0.65" stroke-width="0.55" stroke-linejoin="round"/>
<line x1="483.37" y1="251" x2="487.63" y2="251" stroke="#000" stroke-opacity="0.7" stroke-width="0.85"/>
<line x1="482.86" y1="253.6" x2="488.14" y2="253.6" stroke="#000" stroke-opacity="0.7" stroke-width="0.85"/>
<line x1="483.30" y1="260.1" x2="487.70" y2="260.1" stroke="#000" stroke-opacity="0.7" stroke-width="0.85"/>
<line x1="496.5" y1="241.2" x2="496.5" y2="276.2" stroke="#6e6e6e" stroke-width="0.75"/>
<polygon points="496.55,247.7 496.97,248.2 497.08,248.7 497.23,249.2 497.40,249.7 497.58,250.2 497.74,250.7 497.87,251.2 498.00,251.7 498.14,252.2 498.27,252.7 498.39,253.2 498.49,253.7 498.56,254.2 498.59,254.7 498.58,255.2 498.53,255.7 498.45,256.2 498.36,256.7 498.26,257.2 498.16,257.7 498.07,258.2 497.99,258.7 497.94,259.2 497.93,259.7 497.99,260.2 498.12,260.7 498.29,261.2 498.47,261.7 498.62,262.2 498.74,262.7 498.87,263.2 498.98,263.7 499.08,264.2 499.13,264.7 499.13,265.2 499.05,265.7 498.92,266.2 498.75,266.7 498.58,267.2 498.41,267.7 498.19,268.2 497.94,268.7 497.69,269.2 497.45,269.7 497.27,270.2 497.13,270.7 496.99,271.2 496.55,271.7 496.45,271.7 496.01,271.2 495.87,270.7 495.73,270.2 495.55,269.7 495.31,269.2 495.06,268.7 494.81,268.2 494.59,267.7 494.42,267.2 494.25,266.7 494.08,266.2 493.95,265.7 493.87,265.2 493.87,264.7 493.92,264.2 494.02,263.7 494.13,263.2 494.26,262.7 494.38,262.2 494.53,261.7 494.71,261.2 494.88,260.7 495.01,260.2 495.07,259.7 495.06,259.2 495.01,258.7 494.93,258.2 494.84,257.7 494.74,257.2 494.64,256.7 494.55,256.2 494.47,255.7 494.42,255.2 494.41,254.7 494.44,254.2 494.51,253.7 494.61,253.2 494.73,252.7 494.86,252.2 495.00,251.7 495.13,251.2 495.26,250.7 495.42,250.2 495.60,249.7 495.77,249.2 495.92,248.7 496.03,248.2 496.45,247.7" fill="#cad29e" stroke="#000" stroke-opacity="0.65" stroke-width="0.55" stroke-linejoin="round"/>
<line x1="494.41" y1="254.8" x2="498.59" y2="254.8" stroke="#000" stroke-opacity="0.7" stroke-width="0.85"/>
<line x1="495.07" y1="259.6" x2="497.93" y2="259.6" stroke="#000" stroke-opacity="0.7" stroke-width="0.85"/>
<line x1="494.30" y1="262.5" x2="498.70" y2="262.5" stroke="#000" stroke-opacity="0.7" stroke-width="0.85"/>
<line x1="507.4" y1="243.6" x2="507.4" y2="319.9" stroke="#6e6e6e" stroke-width="0.75"/>
<polygon points="507.45,247.1 507.95,247.6 508.12,248.1 508.28,248.6 508.42,249.1 508.55,249.6 508.68,250.1 508.81,250.6 508.94,251.1 509.07,251.6 509.19,252.1 509.30,252.6 509.40,253.1 509.49,253.6 509.57,254.1 509.65,254.6 509.72,255.1 509.78,255.6 509.84,256.1 509.89,256.6 509.94,257.1 509.99,257.6 510.04,258.1 510.08,258.6 510.12,259.1 510.14,259.6 510.15,260.1 510.14,260.6 510.11,261.1 510.07,261.6 510.01,262.1 509.95,262.6 509.88,263.1 509.81,263.6 509.74,264.1 509.67,264.6 509.59,265.1 509.50,265.6 509.41,266.1 509.31,266.6 509.22,267.1 509.12,267.6 509.03,268.1 508.95,268.6 508.86,269.1 508.77,269.6 508.68,270.1 508.60,270.6 508.51,271.1 508.43,271.6 508.35,272.1 508.28,272.6 508.20,273.1 508.12,273.6 508.03,274.1 507.96,274.6 507.90,275.1 507.45,275.6 507.35,275.6 506.90,275.1 506.84,274.6 506.77,274.1 506.68,273.6 506.60,273.1 506.52,272.6 506.45,272.1 506.37,271.6 506.29,271.1 506.20,270.6 506.12,270.1 506.03,269.6 505.94,269.1 505.85,268.6 505.77,268.1 505.68,267.6 505.58,267.1 505.49,266.6 505.39,266.1 505.30,265.6 505.21,265.1 505.13,264.6 505.06,264.1 504.99,263.6 504.92,263.1 504.85,262.6 504.79,262.1 504.73,261.6 504.69,261.1 504.66,260.6 504.65,260.1 504.66,259.6 504.68,259.1 504.72,258.6 504.76,258.1 504.81,257.6 504.86,257.1 504.91,256.6 504.96,256.1 505.02,255.6 505.08,255.1 505.15,254.6 505.23,254.1 505.31,253.6 505.40,253.1 505.50,252.6 505.61,252.1 505.73,251.6 505.86,251.1 505.99,250.6 506.12,250.1 506.25,249.6 506.38,249.1 506.52,248.6 506.68,248.1 506.85,247.6 507.35,247.1" fill="#cad29e" stroke="#000" stroke-opacity="0.65" stroke-width="0.55" stroke-linejoin="round"/>
<polygon points="507.45,309.1 507.87,309.6 507.92,310.1 507.98,310.6 508.04,311.1 508.10,311.6 508.14,312.1 508.17,312.6 508.16,313.1 508.13,313.6 508.07,314.1 507.99,314.6 507.91,315.1 507.45,315.6 507.35,315.6 506.89,315.1 506.81,314.6 506.73,314.1 506.67,313.6 506.64,313.1 506.63,312.6 506.66,312.1 506.70,311.6 506.76,311.1 506.82,310.6 506.88,310.1 506.93,309.6 507.35,309.1" fill="#cad29e" stroke="#000" stroke-opacity="0.65" stroke-width="0.55" stroke-linejoin="round"/>
<line x1="506.12" y1="250.1" x2="508.68" y2="250.1" stroke="#000" stroke-opacity="0.7" stroke-width="0.85"/>
<line x1="504.69" y1="259" x2="510.11" y2="259" stroke="#000" stroke-opacity="0.7" stroke-width="0.85"/>
<line x1="505.09" y1="264.3" x2="509.71" y2="264.3" stroke="#000" stroke-opacity="0.7" stroke-width="0.85"/>
<polyline points="341.2,237.5 341.2,223.7 445,223.7 445,232.5" fill="none" stroke="#555" stroke-width="0.8"/>
<circle cx="393.2" cy="218.8" r="0.9" fill="#333"/>
<rect x="0" y="0" width="520" height="1" fill="#5e5e5e"/>
<rect x="0" y="0" width="1.1" height="381" fill="#6a6a6a"/>
<rect x="518.9" y="0" width="1.1" height="381" fill="#5a5a5a"/>
<rect x="0" y="379.8" width="520" height="1.2" fill="#333"/>
</g></svg></body></html>
